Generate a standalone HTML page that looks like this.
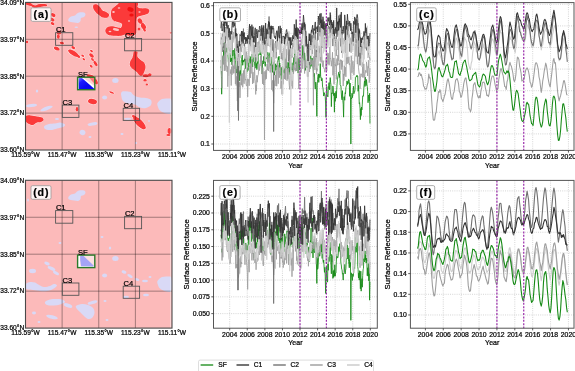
<!DOCTYPE html>
<html><head><meta charset="utf-8"><style>
html,body{margin:0;padding:0;background:#fff;}
body{width:575px;height:371px;position:relative;overflow:hidden;font-family:"Liberation Sans", sans-serif;}
text{stroke:#000;stroke-width:0.22px;}
</style></head><body>
<svg width="575" height="371" viewBox="0 0 575 371" style="position:absolute;left:0;top:0;will-change:transform;filter:blur(0.4px)">
<g font-family='"Liberation Sans", sans-serif' fill="#000">
<defs><clipPath id="clipa"><rect x="25.5" y="2.4" width="146.5" height="147.6"/></clipPath></defs>
<rect x="25.5" y="2.4" width="146.5" height="147.6" fill="#fcbaba"/>
<g clip-path="url(#clipa)">
<path d="M68.5,19C68.92,18.25 69.92,17.08 71,16.5C72.08,15.92 74,16 75,15.5C76,15 76.17,14.03 77,13.5C77.83,12.97 78.83,12.47 80,12.3C81.17,12.13 83.08,12.13 84,12.5C84.92,12.87 85.5,13.75 85.5,14.5C85.5,15.25 84.75,16.42 84,17C83.25,17.58 81.58,17.33 81,18C80.42,18.67 81,20.17 80.5,21C80,21.83 79.08,22.75 78,23C76.92,23.25 75.25,22.67 74,22.5C72.75,22.33 71.42,22.25 70.5,22C69.58,21.75 68.83,21.5 68.5,21C68.17,20.5 68.08,19.75 68.5,19Z" fill="#d9d9f6"/>
<ellipse cx="76.3" cy="27.3" rx="1.8" ry="0.8" transform="rotate(0 76.3 27.3)" fill="#d9d9f6"/>
<ellipse cx="31.5" cy="105.5" rx="5.5" ry="1.6" transform="rotate(-5 31.5 105.5)" fill="#d9d9f6"/>
<ellipse cx="46.5" cy="108.5" rx="6.5" ry="1.8" transform="rotate(-20 46.5 108.5)" fill="#d9d9f6"/>
<path d="M44,126.5C44.5,125.58 47.17,124.5 49,124C50.83,123.5 53.17,123.75 55,123.5C56.83,123.25 58.33,122.33 60,122.5C61.67,122.67 64.5,123.75 65,124.5C65.5,125.25 64.33,126.33 63,127C61.67,127.67 58.83,128 57,128.5C55.17,129 53.83,129.83 52,130C50.17,130.17 47.33,130.08 46,129.5C44.67,128.92 43.5,127.42 44,126.5Z" fill="#d9d9f6"/>
<ellipse cx="82.5" cy="132.5" rx="3" ry="2.6" transform="rotate(20 82.5 132.5)" fill="#d9d9f6"/>
<ellipse cx="92.5" cy="124" rx="5" ry="1.6" transform="rotate(-10 92.5 124)" fill="#d9d9f6"/>
<ellipse cx="115.4" cy="80.6" rx="3.2" ry="2.5" transform="rotate(0 115.4 80.6)" fill="#d9d9f6"/>
<path d="M121.5,93C122.25,92.08 124.42,91.5 126,91.5C127.58,91.5 129.5,92.25 131,93C132.5,93.75 133.5,95.25 135,96C136.5,96.75 138.17,97.17 140,97.5C141.83,97.83 144.17,97.58 146,98C147.83,98.42 150.17,98.83 151,100C151.83,101.17 151.83,103.67 151,105C150.17,106.33 147.83,107.58 146,108C144.17,108.42 141.83,108.08 140,107.5C138.17,106.92 137,105.17 135,104.5C133,103.83 130,104.08 128,103.5C126,102.92 124.08,102.08 123,101C121.92,99.92 121.75,98.33 121.5,97C121.25,95.67 120.75,93.92 121.5,93Z" fill="#d9d9f6"/>
<path d="M157.5,103C158.17,101.67 160.25,99.75 162,99C163.75,98.25 166.42,98.33 168,98.5C169.58,98.67 170.92,97.67 171.5,100C172.08,102.33 172.42,110.25 171.5,112.5C170.58,114.75 167.92,113.83 166,113.5C164.08,113.17 161.33,111.58 160,110.5C158.67,109.42 158.42,108.25 158,107C157.58,105.75 156.83,104.33 157.5,103Z" fill="#d9d9f6"/>
<ellipse cx="104.6" cy="97.5" rx="2.5" ry="2" transform="rotate(0 104.6 97.5)" fill="#d9d9f6"/>
<ellipse cx="127.5" cy="93.5" rx="4.5" ry="2" transform="rotate(0 127.5 93.5)" fill="#d9d9f6"/>
<ellipse cx="125" cy="94" rx="4" ry="2.5" transform="rotate(20 125 94)" fill="#d9d9f6"/>
<ellipse cx="37" cy="91" rx="1.2" ry="1.5" transform="rotate(0 37 91)" fill="#d9d9f6"/>
<ellipse cx="57" cy="119" rx="2" ry="1" transform="rotate(0 57 119)" fill="#d9d9f6"/>
<ellipse cx="90" cy="137" rx="1.5" ry="1" transform="rotate(0 90 137)" fill="#d9d9f6"/>
<ellipse cx="122" cy="134" rx="1.5" ry="1" transform="rotate(0 122 134)" fill="#d9d9f6"/>
<ellipse cx="136" cy="143" rx="1.2" ry="1" transform="rotate(0 136 143)" fill="#d9d9f6"/>
<ellipse cx="149" cy="121" rx="1.2" ry="0.8" transform="rotate(0 149 121)" fill="#d9d9f6"/>
<ellipse cx="127.8" cy="118.8" rx="3.6" ry="1.1" transform="rotate(0 127.8 118.8)" fill="#d9d9f6"/>
<g stroke="#ffe6e6" stroke-width="1.0"><path d="M26,2.4C26.58,2.1 28.33,2.2 29.5,2.6C30.67,3 32,4.3 33,4.8C34,5.3 34.58,5.68 35.5,5.6C36.42,5.52 37.33,4.57 38.5,4.3C39.67,4.03 41.17,3.98 42.5,4C43.83,4.02 45.78,4.07 46.5,4.4C47.22,4.73 47.47,5.67 46.8,6C46.13,6.33 43.97,6.13 42.5,6.4C41.03,6.67 39.33,7.3 38,7.6C36.67,7.9 35.67,8.47 34.5,8.2C33.33,7.93 32.42,6.63 31,6C29.58,5.37 26.83,5 26,4.4C25.17,3.8 25.42,2.7 26,2.4Z" fill="#fb3a3a"/>
<ellipse cx="53.2" cy="15" rx="2.6" ry="1.6" transform="rotate(30 53.2 15)" fill="#fb3a3a"/>
<ellipse cx="52.3" cy="19.6" rx="2.4" ry="1.5" transform="rotate(30 52.3 19.6)" fill="#fb3a3a"/>
<ellipse cx="52.6" cy="23.6" rx="2" ry="1.4" transform="rotate(30 52.6 23.6)" fill="#fb3a3a"/>
<ellipse cx="59" cy="32.5" rx="2.6" ry="2" transform="rotate(0 59 32.5)" fill="#fb3a3a"/>
<ellipse cx="58.3" cy="36.5" rx="1.4" ry="2.3" transform="rotate(0 58.3 36.5)" fill="#fb3a3a"/>
<ellipse cx="61.8" cy="43" rx="2.2" ry="1.2" transform="rotate(10 61.8 43)" fill="#fb3a3a"/>
<ellipse cx="56.8" cy="48.6" rx="3" ry="1.7" transform="rotate(20 56.8 48.6)" fill="#fb3a3a"/>
<ellipse cx="73.5" cy="53.2" rx="6.2" ry="2.2" transform="rotate(32 73.5 53.2)" fill="#fb3a3a"/>
<ellipse cx="73.2" cy="47.6" rx="2" ry="1.3" transform="rotate(30 73.2 47.6)" fill="#fb3a3a"/>
<ellipse cx="78.3" cy="56.3" rx="2" ry="1.3" transform="rotate(35 78.3 56.3)" fill="#fb3a3a"/>
<ellipse cx="82.7" cy="55.7" rx="1.6" ry="1" transform="rotate(35 82.7 55.7)" fill="#fb3a3a"/>
<ellipse cx="83.8" cy="59.2" rx="1.5" ry="0.9" transform="rotate(35 83.8 59.2)" fill="#fb3a3a"/>
<ellipse cx="91.5" cy="55.5" rx="2.8" ry="1.5" transform="rotate(40 91.5 55.5)" fill="#fb3a3a"/>
<ellipse cx="91.5" cy="51" rx="1.6" ry="1" transform="rotate(40 91.5 51)" fill="#fb3a3a"/>
<ellipse cx="95.5" cy="63.5" rx="3" ry="1.4" transform="rotate(55 95.5 63.5)" fill="#fb3a3a"/>
<ellipse cx="92.5" cy="59.5" rx="1.8" ry="1" transform="rotate(45 92.5 59.5)" fill="#fb3a3a"/>
<ellipse cx="91.2" cy="66.3" rx="1.8" ry="1" transform="rotate(45 91.2 66.3)" fill="#fb3a3a"/>
<ellipse cx="90.3" cy="76.2" rx="3.8" ry="1.6" transform="rotate(12 90.3 76.2)" fill="#fb3a3a"/>
<ellipse cx="95.8" cy="81.5" rx="1.6" ry="3.2" transform="rotate(-25 95.8 81.5)" fill="#fb3a3a"/>
<ellipse cx="27" cy="42" rx="1.2" ry="1.2" transform="rotate(0 27 42)" fill="#fb3a3a"/>
<path d="M93.5,5C94.08,4.25 95.92,4.17 97,4.5C98.08,4.83 99.08,6 100,7C100.92,8 101.5,9.67 102.5,10.5C103.5,11.33 104.92,11.33 106,12C107.08,12.67 108.75,13.58 109,14.5C109.25,15.42 108.5,17 107.5,17.5C106.5,18 104.33,17.83 103,17.5C101.67,17.17 100.58,16.25 99.5,15.5C98.42,14.75 97.5,14.08 96.5,13C95.5,11.92 94,10.33 93.5,9C93,7.67 92.92,5.75 93.5,5Z" fill="#fb3a3a"/>
<path d="M121,2.4C124.17,2.13 134.25,1.63 137,2.4C139.75,3.17 136.83,6.02 137.5,7C138.17,7.98 139.42,8.05 141,8.3C142.58,8.55 145.62,8.13 147,8.5C148.38,8.87 149.13,9.67 149.3,10.5C149.47,11.33 148.88,12.75 148,13.5C147.12,14.25 145.33,14.58 144,15C142.67,15.42 141.17,15.58 140,16C138.83,16.42 137.58,16.5 137,17.5C136.42,18.5 136.58,20.25 136.5,22C136.42,23.75 136.58,26.08 136.5,28C136.42,29.92 136.58,32.25 136,33.5C135.42,34.75 134.33,35.17 133,35.5C131.67,35.83 129.33,35.67 128,35.5C126.67,35.33 126.17,34.45 125,34.5C123.83,34.55 122.67,35.58 121,35.8C119.33,36.02 117.17,35.97 115,35.8C112.83,35.63 109.62,35.6 108,34.8C106.38,34 105.38,32.25 105.3,31C105.22,29.75 106.38,28.08 107.5,27.3C108.62,26.52 110.42,26.3 112,26.3C113.58,26.3 115.5,27.05 117,27.3C118.5,27.55 120.17,28.35 121,27.8C121.83,27.25 122.5,24.97 122,24C121.5,23.03 119.33,22.5 118,22C116.67,21.5 115.08,21.75 114,21C112.92,20.25 112,18.83 111.5,17.5C111,16.17 110.92,14.42 111,13C111.08,11.58 111.33,10.08 112,9C112.67,7.92 114,7.33 115,6.5C116,5.67 117,4.68 118,4C119,3.32 117.83,2.67 121,2.4Z" fill="#fb3a3a"/>
<ellipse cx="140" cy="21" rx="2.2" ry="2.8" transform="rotate(-30 140 21)" fill="#fb3a3a"/>
<ellipse cx="143.5" cy="26.5" rx="2.2" ry="3" transform="rotate(-35 143.5 26.5)" fill="#fb3a3a"/>
<ellipse cx="139" cy="29" rx="1.5" ry="1.5" transform="rotate(0 139 29)" fill="#fb3a3a"/>
<ellipse cx="143" cy="25" rx="1.5" ry="2.5" transform="rotate(-35 143 25)" fill="#fb3a3a"/>
<ellipse cx="144.5" cy="30" rx="1.2" ry="1.8" transform="rotate(-30 144.5 30)" fill="#fb3a3a"/>
<ellipse cx="170.7" cy="32.8" rx="1" ry="1" transform="rotate(0 170.7 32.8)" fill="#fb3a3a"/>
<path d="M134,51.5C134.72,51 136.95,51.17 137.5,52C138.05,52.83 136.88,55.25 137.3,56.5C137.72,57.75 138.88,58.5 140,59.5C141.12,60.5 143.08,61.25 144,62.5C144.92,63.75 145.45,65.5 145.5,67C145.55,68.5 144.83,70.12 144.3,71.5C143.77,72.88 143.05,74.63 142.3,75.3C141.55,75.97 140.72,76.05 139.8,75.5C138.88,74.95 137.97,73.08 136.8,72C135.63,70.92 133.93,70.08 132.8,69C131.67,67.92 130.42,66.75 130,65.5C129.58,64.25 129.92,62.75 130.3,61.5C130.68,60.25 131.82,59.08 132.3,58C132.78,56.92 132.92,56.08 133.2,55C133.48,53.92 133.28,52 134,51.5Z" fill="#fb3a3a"/>
<ellipse cx="149.8" cy="74.8" rx="1.8" ry="1.6" transform="rotate(0 149.8 74.8)" fill="#fb3a3a"/>
<ellipse cx="145" cy="80.2" rx="1.5" ry="1.3" transform="rotate(0 145 80.2)" fill="#fb3a3a"/>
<ellipse cx="146.8" cy="84.4" rx="1.2" ry="1" transform="rotate(0 146.8 84.4)" fill="#fb3a3a"/>
<ellipse cx="145.5" cy="75.5" rx="3" ry="1.2" transform="rotate(0 145.5 75.5)" fill="#fb3a3a"/>
<ellipse cx="92.5" cy="101.5" rx="4.5" ry="2.5" transform="rotate(10 92.5 101.5)" fill="#fb3a3a"/>
<path d="M26,116C26.83,115 29.17,115.42 31,115.5C32.83,115.58 35.17,116.17 37,116.5C38.83,116.83 40.92,116.92 42,117.5C43.08,118.08 43.67,119.25 43.5,120C43.33,120.75 42.08,121.58 41,122C39.92,122.42 38.33,122 37,122.5C35.67,123 34.33,124.75 33,125C31.67,125.25 30.17,124.58 29,124C27.83,123.42 26.5,122.83 26,121.5C25.5,120.17 25.17,117 26,116Z" fill="#fb3a3a"/>
<ellipse cx="77" cy="109.3" rx="1.3" ry="2.3" transform="rotate(0 77 109.3)" fill="#fb3a3a"/>
<ellipse cx="111.6" cy="92.5" rx="2.6" ry="0.9" transform="rotate(20 111.6 92.5)" fill="#fb3a3a"/>
<ellipse cx="139.5" cy="123" rx="8.2" ry="3.3" transform="rotate(45 139.5 123)" fill="#fb3a3a"/>
<ellipse cx="134.5" cy="117" rx="2.8" ry="1.3" transform="rotate(30 134.5 117)" fill="#fb3a3a"/>
<ellipse cx="169.5" cy="131" rx="2" ry="3" transform="rotate(0 169.5 131)" fill="#fb3a3a"/>
<ellipse cx="168.5" cy="135" rx="2.2" ry="1" transform="rotate(0 168.5 135)" fill="#fb3a3a"/>
<ellipse cx="146" cy="76" rx="3" ry="1.2" transform="rotate(0 146 76)" fill="#fb3a3a"/></g>
<path d="M26,2.4C26.58,2.1 28.33,2.2 29.5,2.6C30.67,3 32,4.3 33,4.8C34,5.3 34.58,5.68 35.5,5.6C36.42,5.52 37.33,4.57 38.5,4.3C39.67,4.03 41.17,3.98 42.5,4C43.83,4.02 45.78,4.07 46.5,4.4C47.22,4.73 47.47,5.67 46.8,6C46.13,6.33 43.97,6.13 42.5,6.4C41.03,6.67 39.33,7.3 38,7.6C36.67,7.9 35.67,8.47 34.5,8.2C33.33,7.93 32.42,6.63 31,6C29.58,5.37 26.83,5 26,4.4C25.17,3.8 25.42,2.7 26,2.4Z" fill="#fb3a3a"/>
<ellipse cx="53.2" cy="15" rx="2.6" ry="1.6" transform="rotate(30 53.2 15)" fill="#fb3a3a"/>
<ellipse cx="52.3" cy="19.6" rx="2.4" ry="1.5" transform="rotate(30 52.3 19.6)" fill="#fb3a3a"/>
<ellipse cx="52.6" cy="23.6" rx="2" ry="1.4" transform="rotate(30 52.6 23.6)" fill="#fb3a3a"/>
<ellipse cx="59" cy="32.5" rx="2.6" ry="2" transform="rotate(0 59 32.5)" fill="#fb3a3a"/>
<ellipse cx="58.3" cy="36.5" rx="1.4" ry="2.3" transform="rotate(0 58.3 36.5)" fill="#fb3a3a"/>
<ellipse cx="61.8" cy="43" rx="2.2" ry="1.2" transform="rotate(10 61.8 43)" fill="#fb3a3a"/>
<ellipse cx="56.8" cy="48.6" rx="3" ry="1.7" transform="rotate(20 56.8 48.6)" fill="#fb3a3a"/>
<ellipse cx="73.5" cy="53.2" rx="6.2" ry="2.2" transform="rotate(32 73.5 53.2)" fill="#fb3a3a"/>
<ellipse cx="73.2" cy="47.6" rx="2" ry="1.3" transform="rotate(30 73.2 47.6)" fill="#fb3a3a"/>
<ellipse cx="78.3" cy="56.3" rx="2" ry="1.3" transform="rotate(35 78.3 56.3)" fill="#fb3a3a"/>
<ellipse cx="82.7" cy="55.7" rx="1.6" ry="1" transform="rotate(35 82.7 55.7)" fill="#fb3a3a"/>
<ellipse cx="83.8" cy="59.2" rx="1.5" ry="0.9" transform="rotate(35 83.8 59.2)" fill="#fb3a3a"/>
<ellipse cx="91.5" cy="55.5" rx="2.8" ry="1.5" transform="rotate(40 91.5 55.5)" fill="#fb3a3a"/>
<ellipse cx="91.5" cy="51" rx="1.6" ry="1" transform="rotate(40 91.5 51)" fill="#fb3a3a"/>
<ellipse cx="95.5" cy="63.5" rx="3" ry="1.4" transform="rotate(55 95.5 63.5)" fill="#fb3a3a"/>
<ellipse cx="92.5" cy="59.5" rx="1.8" ry="1" transform="rotate(45 92.5 59.5)" fill="#fb3a3a"/>
<ellipse cx="91.2" cy="66.3" rx="1.8" ry="1" transform="rotate(45 91.2 66.3)" fill="#fb3a3a"/>
<ellipse cx="90.3" cy="76.2" rx="3.8" ry="1.6" transform="rotate(12 90.3 76.2)" fill="#fb3a3a"/>
<ellipse cx="95.8" cy="81.5" rx="1.6" ry="3.2" transform="rotate(-25 95.8 81.5)" fill="#fb3a3a"/>
<ellipse cx="27" cy="42" rx="1.2" ry="1.2" transform="rotate(0 27 42)" fill="#fb3a3a"/>
<path d="M93.5,5C94.08,4.25 95.92,4.17 97,4.5C98.08,4.83 99.08,6 100,7C100.92,8 101.5,9.67 102.5,10.5C103.5,11.33 104.92,11.33 106,12C107.08,12.67 108.75,13.58 109,14.5C109.25,15.42 108.5,17 107.5,17.5C106.5,18 104.33,17.83 103,17.5C101.67,17.17 100.58,16.25 99.5,15.5C98.42,14.75 97.5,14.08 96.5,13C95.5,11.92 94,10.33 93.5,9C93,7.67 92.92,5.75 93.5,5Z" fill="#fb3a3a"/>
<path d="M121,2.4C124.17,2.13 134.25,1.63 137,2.4C139.75,3.17 136.83,6.02 137.5,7C138.17,7.98 139.42,8.05 141,8.3C142.58,8.55 145.62,8.13 147,8.5C148.38,8.87 149.13,9.67 149.3,10.5C149.47,11.33 148.88,12.75 148,13.5C147.12,14.25 145.33,14.58 144,15C142.67,15.42 141.17,15.58 140,16C138.83,16.42 137.58,16.5 137,17.5C136.42,18.5 136.58,20.25 136.5,22C136.42,23.75 136.58,26.08 136.5,28C136.42,29.92 136.58,32.25 136,33.5C135.42,34.75 134.33,35.17 133,35.5C131.67,35.83 129.33,35.67 128,35.5C126.67,35.33 126.17,34.45 125,34.5C123.83,34.55 122.67,35.58 121,35.8C119.33,36.02 117.17,35.97 115,35.8C112.83,35.63 109.62,35.6 108,34.8C106.38,34 105.38,32.25 105.3,31C105.22,29.75 106.38,28.08 107.5,27.3C108.62,26.52 110.42,26.3 112,26.3C113.58,26.3 115.5,27.05 117,27.3C118.5,27.55 120.17,28.35 121,27.8C121.83,27.25 122.5,24.97 122,24C121.5,23.03 119.33,22.5 118,22C116.67,21.5 115.08,21.75 114,21C112.92,20.25 112,18.83 111.5,17.5C111,16.17 110.92,14.42 111,13C111.08,11.58 111.33,10.08 112,9C112.67,7.92 114,7.33 115,6.5C116,5.67 117,4.68 118,4C119,3.32 117.83,2.67 121,2.4Z" fill="#fb3a3a"/>
<ellipse cx="140" cy="21" rx="2.2" ry="2.8" transform="rotate(-30 140 21)" fill="#fb3a3a"/>
<ellipse cx="143.5" cy="26.5" rx="2.2" ry="3" transform="rotate(-35 143.5 26.5)" fill="#fb3a3a"/>
<ellipse cx="139" cy="29" rx="1.5" ry="1.5" transform="rotate(0 139 29)" fill="#fb3a3a"/>
<ellipse cx="143" cy="25" rx="1.5" ry="2.5" transform="rotate(-35 143 25)" fill="#fb3a3a"/>
<ellipse cx="144.5" cy="30" rx="1.2" ry="1.8" transform="rotate(-30 144.5 30)" fill="#fb3a3a"/>
<ellipse cx="170.7" cy="32.8" rx="1" ry="1" transform="rotate(0 170.7 32.8)" fill="#fb3a3a"/>
<path d="M134,51.5C134.72,51 136.95,51.17 137.5,52C138.05,52.83 136.88,55.25 137.3,56.5C137.72,57.75 138.88,58.5 140,59.5C141.12,60.5 143.08,61.25 144,62.5C144.92,63.75 145.45,65.5 145.5,67C145.55,68.5 144.83,70.12 144.3,71.5C143.77,72.88 143.05,74.63 142.3,75.3C141.55,75.97 140.72,76.05 139.8,75.5C138.88,74.95 137.97,73.08 136.8,72C135.63,70.92 133.93,70.08 132.8,69C131.67,67.92 130.42,66.75 130,65.5C129.58,64.25 129.92,62.75 130.3,61.5C130.68,60.25 131.82,59.08 132.3,58C132.78,56.92 132.92,56.08 133.2,55C133.48,53.92 133.28,52 134,51.5Z" fill="#fb3a3a"/>
<ellipse cx="149.8" cy="74.8" rx="1.8" ry="1.6" transform="rotate(0 149.8 74.8)" fill="#fb3a3a"/>
<ellipse cx="145" cy="80.2" rx="1.5" ry="1.3" transform="rotate(0 145 80.2)" fill="#fb3a3a"/>
<ellipse cx="146.8" cy="84.4" rx="1.2" ry="1" transform="rotate(0 146.8 84.4)" fill="#fb3a3a"/>
<ellipse cx="145.5" cy="75.5" rx="3" ry="1.2" transform="rotate(0 145.5 75.5)" fill="#fb3a3a"/>
<ellipse cx="92.5" cy="101.5" rx="4.5" ry="2.5" transform="rotate(10 92.5 101.5)" fill="#fb3a3a"/>
<path d="M26,116C26.83,115 29.17,115.42 31,115.5C32.83,115.58 35.17,116.17 37,116.5C38.83,116.83 40.92,116.92 42,117.5C43.08,118.08 43.67,119.25 43.5,120C43.33,120.75 42.08,121.58 41,122C39.92,122.42 38.33,122 37,122.5C35.67,123 34.33,124.75 33,125C31.67,125.25 30.17,124.58 29,124C27.83,123.42 26.5,122.83 26,121.5C25.5,120.17 25.17,117 26,116Z" fill="#fb3a3a"/>
<ellipse cx="77" cy="109.3" rx="1.3" ry="2.3" transform="rotate(0 77 109.3)" fill="#fb3a3a"/>
<ellipse cx="111.6" cy="92.5" rx="2.6" ry="0.9" transform="rotate(20 111.6 92.5)" fill="#fb3a3a"/>
<ellipse cx="139.5" cy="123" rx="8.2" ry="3.3" transform="rotate(45 139.5 123)" fill="#fb3a3a"/>
<ellipse cx="134.5" cy="117" rx="2.8" ry="1.3" transform="rotate(30 134.5 117)" fill="#fb3a3a"/>
<ellipse cx="169.5" cy="131" rx="2" ry="3" transform="rotate(0 169.5 131)" fill="#fb3a3a"/>
<ellipse cx="168.5" cy="135" rx="2.2" ry="1" transform="rotate(0 168.5 135)" fill="#fb3a3a"/>
<ellipse cx="146" cy="76" rx="3" ry="1.2" transform="rotate(0 146 76)" fill="#fb3a3a"/>
<ellipse cx="116" cy="29.5" rx="3.2" ry="1.3" transform="rotate(10 116 29.5)" fill="#fcc4c4"/>
<ellipse cx="113.5" cy="12" rx="1.3" ry="0.9" transform="rotate(0 113.5 12)" fill="#fcc4c4"/>
<ellipse cx="129" cy="21" rx="1.2" ry="0.8" transform="rotate(0 129 21)" fill="#fcc4c4"/>
<ellipse cx="110" cy="31.5" rx="1.4" ry="0.8" transform="rotate(0 110 31.5)" fill="#fcc4c4"/>
<ellipse cx="119" cy="8" rx="1.3" ry="0.8" transform="rotate(0 119 8)" fill="#fcc4c4"/>
<ellipse cx="139.5" cy="12" rx="1.2" ry="0.8" transform="rotate(0 139.5 12)" fill="#fcc4c4"/>
<ellipse cx="130.5" cy="9.5" rx="3.2" ry="2.2" transform="rotate(20 130.5 9.5)" fill="#f01010"/>
<ellipse cx="131.5" cy="15" rx="2.2" ry="1.5" transform="rotate(0 131.5 15)" fill="#f01010"/>
<linearGradient id="gsfb" x1="0" y1="0" x2="0.6" y2="0.6"><stop offset="0" stop-color="#8c8cff"/><stop offset="0.45" stop-color="#1a1aff"/><stop offset="1" stop-color="#0808f0"/></linearGradient>
<rect x="77.6" y="77.2" width="17.2" height="12.5" fill="#fbd0d0"/>
<path d="M88.8,77.2 L94.8,77.2 L94.8,84.2 Z" fill="#f77"/>
<path d="M77.6,77.2 L82.6,77.2 L94.8,86.2 L94.8,89.7 L77.6,89.7 Z" fill="#fff"/>
<path d="M78.6,77.2 L81.1,77.2 L94.3,88.7 L94.3,89.7 L78.8,89.7 Z" fill="url(#gsfb)"/>
</g>
<line x1="62.12" y1="2.4" x2="62.12" y2="150.0" stroke="#000" stroke-opacity="0.45" stroke-width="0.8"/>
<line x1="25.5" y1="39.3" x2="172.0" y2="39.3" stroke="#000" stroke-opacity="0.45" stroke-width="0.8"/>
<line x1="98.75" y1="2.4" x2="98.75" y2="150.0" stroke="#000" stroke-opacity="0.45" stroke-width="0.8"/>
<line x1="25.5" y1="76.2" x2="172.0" y2="76.2" stroke="#000" stroke-opacity="0.45" stroke-width="0.8"/>
<line x1="135.38" y1="2.4" x2="135.38" y2="150.0" stroke="#000" stroke-opacity="0.45" stroke-width="0.8"/>
<line x1="25.5" y1="113.1" x2="172.0" y2="113.1" stroke="#000" stroke-opacity="0.45" stroke-width="0.8"/>
<rect x="55.6" y="32.7" width="17.2" height="12.6" fill="none" stroke="#555" stroke-width="0.9"/>
<text x="55.9" y="32.3" font-size="7.6" fill="#000">C1</text>
<rect x="124.6" y="38.5" width="17" height="12.3" fill="none" stroke="#555" stroke-width="0.9"/>
<text x="124.9" y="38.1" font-size="7.6" fill="#000">C2</text>
<rect x="62.3" y="105.1" width="16.6" height="12.3" fill="none" stroke="#555" stroke-width="0.9"/>
<text x="62.6" y="104.7" font-size="7.6" fill="#000">C3</text>
<rect x="123.2" y="108.3" width="16.4" height="12.1" fill="none" stroke="#555" stroke-width="0.9"/>
<text x="123.5" y="107.9" font-size="7.6" fill="#000">C4</text>
<rect x="77.6" y="77.2" width="17.2" height="12.5" fill="none" stroke="#2a7a2a" stroke-width="1.4"/>
<text x="77.9" y="76.8" font-size="7.6" fill="#000">SF</text>
<rect x="170.2" y="2.4" width="1.0" height="147.6" fill="#fff" fill-opacity="0.45"/>
<rect x="25.5" y="2.4" width="146.5" height="147.6" fill="none" stroke="#4a4a4a" stroke-width="1.1"/>
<rect x="31" y="7.8" width="20" height="13.6" rx="1.5" fill="#fff" fill-opacity="0.85" stroke="#9a9a9a" stroke-width="0.8"/>
<text x="41.3" y="17.8" font-size="10.6" font-weight="bold" text-anchor="middle" letter-spacing="0.9">(a)</text>
<text x="24.2" y="4.7" font-size="6.6" text-anchor="end">34.09°N</text>
<text x="24.2" y="41.6" font-size="6.6" text-anchor="end">33.97°N</text>
<text x="24.2" y="78.5" font-size="6.6" text-anchor="end">33.85°N</text>
<text x="24.2" y="115.4" font-size="6.6" text-anchor="end">33.72°N</text>
<text x="24.2" y="152.3" font-size="6.6" text-anchor="end">33.60°N</text>
<text x="25.5" y="157.2" font-size="6.6" text-anchor="middle">115.59°W</text>
<text x="62.12" y="157.2" font-size="6.6" text-anchor="middle">115.47°W</text>
<text x="98.75" y="157.2" font-size="6.6" text-anchor="middle">115.35°W</text>
<text x="135.38" y="157.2" font-size="6.6" text-anchor="middle">115.23°W</text>
<text x="172" y="157.2" font-size="6.6" text-anchor="middle">115.11°W</text>
<defs><clipPath id="clipd"><rect x="25.5" y="180.3" width="146.5" height="147.8"/></clipPath></defs>
<rect x="25.5" y="180.3" width="146.5" height="147.8" fill="#fcbaba"/>
<g clip-path="url(#clipd)">
<path d="M68.5,197C68.92,196.25 69.92,195.08 71,194.5C72.08,193.92 74,194 75,193.5C76,193 76.17,192.03 77,191.5C77.83,190.97 78.83,190.47 80,190.3C81.17,190.13 83.08,190.13 84,190.5C84.92,190.87 85.5,191.75 85.5,192.5C85.5,193.25 84.75,194.42 84,195C83.25,195.58 81.58,195.33 81,196C80.42,196.67 81,198.17 80.5,199C80,199.83 79.08,200.75 78,201C76.92,201.25 75.25,200.67 74,200.5C72.75,200.33 71.42,200.25 70.5,200C69.58,199.75 68.83,199.5 68.5,199C68.17,198.5 68.08,197.75 68.5,197Z" fill="#d9d9f6"/>
<ellipse cx="32.5" cy="271" rx="3.5" ry="2.2" transform="rotate(0 32.5 271)" fill="#d9d9f6"/>
<ellipse cx="47" cy="263.5" rx="2.8" ry="1.6" transform="rotate(20 47 263.5)" fill="#d9d9f6"/>
<ellipse cx="51.5" cy="268.5" rx="4.2" ry="1.6" transform="rotate(25 51.5 268.5)" fill="#d9d9f6"/>
<ellipse cx="56" cy="273" rx="3.3" ry="1.5" transform="rotate(30 56 273)" fill="#d9d9f6"/>
<path d="M26,284C26.67,282.92 28.5,282.25 30,282C31.5,281.75 33.5,282 35,282.5C36.5,283 37.5,284.25 39,285C40.5,285.75 42.17,286.83 44,287C45.83,287.17 48.33,286.5 50,286C51.67,285.5 52.83,284.08 54,284C55.17,283.92 57.17,284.67 57,285.5C56.83,286.33 54.67,288.08 53,289C51.33,289.92 49.17,290.67 47,291C44.83,291.33 42.33,291.17 40,291C37.67,290.83 35,290.25 33,290C31,289.75 29.17,289.75 28,289.5C26.83,289.25 26.33,289.42 26,288.5C25.67,287.58 25.33,285.08 26,284Z" fill="#d9d9f6"/>
<path d="M45,302C45.5,301.08 48.17,300 50,299.5C51.83,299 54,299 56,299C58,299 60.5,299 62,299.5C63.5,300 65.33,301.17 65,302C64.67,302.83 61.83,303.92 60,304.5C58.17,305.08 56.17,305.42 54,305.5C51.83,305.58 48.5,305.58 47,305C45.5,304.42 44.5,302.92 45,302Z" fill="#d9d9f6"/>
<ellipse cx="68" cy="305.5" rx="4.5" ry="1.8" transform="rotate(20 68 305.5)" fill="#d9d9f6"/>
<path d="M76,306C76.83,305.17 80,304.17 82,304C84,303.83 86.17,304.33 88,305C89.83,305.67 91.92,306.67 93,308C94.08,309.33 94.67,311.33 94.5,313C94.33,314.67 93.08,317 92,318C90.92,319 89.33,319.33 88,319C86.67,318.67 85.33,317.17 84,316C82.67,314.83 81.17,313.17 80,312C78.83,310.83 77.67,310 77,309C76.33,308 75.17,306.83 76,306Z" fill="#d9d9f6"/>
<ellipse cx="92.5" cy="302.5" rx="5" ry="1.6" transform="rotate(-15 92.5 302.5)" fill="#d9d9f6"/>
<ellipse cx="34" cy="313" rx="2" ry="1.4" transform="rotate(0 34 313)" fill="#d9d9f6"/>
<ellipse cx="52" cy="317" rx="6" ry="1.8" transform="rotate(15 52 317)" fill="#d9d9f6"/>
<ellipse cx="39" cy="322" rx="1.5" ry="1" transform="rotate(0 39 322)" fill="#d9d9f6"/>
<ellipse cx="115.4" cy="258.6" rx="3.2" ry="2.5" transform="rotate(0 115.4 258.6)" fill="#d9d9f6"/>
<ellipse cx="124" cy="272" rx="2.5" ry="1.5" transform="rotate(20 124 272)" fill="#d9d9f6"/>
<ellipse cx="130" cy="276" rx="3" ry="1.3" transform="rotate(30 130 276)" fill="#d9d9f6"/>
<ellipse cx="137" cy="279.5" rx="2.5" ry="1.2" transform="rotate(20 137 279.5)" fill="#d9d9f6"/>
<ellipse cx="145" cy="281" rx="3" ry="1.3" transform="rotate(0 145 281)" fill="#d9d9f6"/>
<ellipse cx="150" cy="277" rx="1.5" ry="1" transform="rotate(0 150 277)" fill="#d9d9f6"/>
<path d="M157.5,281C158.17,279.67 160.25,277.75 162,277C163.75,276.25 166.42,276.33 168,276.5C169.58,276.67 170.92,275.67 171.5,278C172.08,280.33 172.42,288.25 171.5,290.5C170.58,292.75 167.92,291.83 166,291.5C164.08,291.17 161.33,289.58 160,288.5C158.67,287.42 158.42,286.25 158,285C157.58,283.75 156.83,282.33 157.5,281Z" fill="#d9d9f6"/>
<ellipse cx="104.6" cy="275.5" rx="2.5" ry="2" transform="rotate(0 104.6 275.5)" fill="#d9d9f6"/>
<ellipse cx="126" cy="297" rx="3" ry="1.3" transform="rotate(0 126 297)" fill="#d9d9f6"/>
<ellipse cx="146" cy="295" rx="3" ry="1.2" transform="rotate(0 146 295)" fill="#d9d9f6"/>
<ellipse cx="105" cy="301" rx="1.5" ry="1" transform="rotate(0 105 301)" fill="#d9d9f6"/>
<ellipse cx="107" cy="320" rx="1.5" ry="1" transform="rotate(0 107 320)" fill="#d9d9f6"/>
<ellipse cx="102" cy="237" rx="1.5" ry="1" transform="rotate(0 102 237)" fill="#d9d9f6"/>
<ellipse cx="110" cy="248" rx="1.2" ry="1.5" transform="rotate(0 110 248)" fill="#d9d9f6"/>
<ellipse cx="60" cy="243" rx="1.5" ry="1" transform="rotate(0 60 243)" fill="#d9d9f6"/>
<ellipse cx="28" cy="200" rx="0.8" ry="1.5" transform="rotate(0 28 200)" fill="#d9d9f6"/>
<rect x="77.6" y="255.1" width="17.2" height="12.5" fill="#fbe0e0"/>
<rect x="77.6" y="255.1" width="2.6" height="12.5" fill="#fff"/>
<rect x="77.6" y="266" width="17.2" height="1.6" fill="#fff"/>
<path d="M80.19999999999999,255.4 L83.1,255.4 L93.6,265.4 L93.3,266.4 L81.1,266.2 L80.19999999999999,260.1 Z" fill="#a4a4f6"/>
</g>
<line x1="62.12" y1="180.3" x2="62.12" y2="328.1" stroke="#000" stroke-opacity="0.45" stroke-width="0.8"/>
<line x1="25.5" y1="217.25" x2="172.0" y2="217.25" stroke="#000" stroke-opacity="0.45" stroke-width="0.8"/>
<line x1="98.75" y1="180.3" x2="98.75" y2="328.1" stroke="#000" stroke-opacity="0.45" stroke-width="0.8"/>
<line x1="25.5" y1="254.2" x2="172.0" y2="254.2" stroke="#000" stroke-opacity="0.45" stroke-width="0.8"/>
<line x1="135.38" y1="180.3" x2="135.38" y2="328.1" stroke="#000" stroke-opacity="0.45" stroke-width="0.8"/>
<line x1="25.5" y1="291.15" x2="172.0" y2="291.15" stroke="#000" stroke-opacity="0.45" stroke-width="0.8"/>
<rect x="55.6" y="210.6" width="17.2" height="12.6" fill="none" stroke="#555" stroke-width="0.9"/>
<text x="55.9" y="210.2" font-size="7.6" fill="#000">C1</text>
<rect x="124.6" y="216.4" width="17" height="12.3" fill="none" stroke="#555" stroke-width="0.9"/>
<text x="124.9" y="216" font-size="7.6" fill="#000">C2</text>
<rect x="62.3" y="283" width="16.6" height="12.3" fill="none" stroke="#555" stroke-width="0.9"/>
<text x="62.6" y="282.6" font-size="7.6" fill="#000">C3</text>
<rect x="123.2" y="286.2" width="16.4" height="12.1" fill="none" stroke="#555" stroke-width="0.9"/>
<text x="123.5" y="285.8" font-size="7.6" fill="#000">C4</text>
<rect x="77.6" y="255.1" width="17.2" height="12.5" fill="none" stroke="#2a7a2a" stroke-width="1.4"/>
<text x="77.9" y="254.7" font-size="7.6" fill="#000">SF</text>
<rect x="170.2" y="180.3" width="1.0" height="147.8" fill="#fff" fill-opacity="0.45"/>
<rect x="25.5" y="180.3" width="146.5" height="147.8" fill="none" stroke="#4a4a4a" stroke-width="1.1"/>
<rect x="31" y="185.7" width="20" height="13.6" rx="1.5" fill="#fff" fill-opacity="0.85" stroke="#9a9a9a" stroke-width="0.8"/>
<text x="41.3" y="195.7" font-size="10.6" font-weight="bold" text-anchor="middle" letter-spacing="0.9">(d)</text>
<text x="24.2" y="182.6" font-size="6.6" text-anchor="end">34.09°N</text>
<text x="24.2" y="219.55" font-size="6.6" text-anchor="end">33.97°N</text>
<text x="24.2" y="256.5" font-size="6.6" text-anchor="end">33.85°N</text>
<text x="24.2" y="293.45" font-size="6.6" text-anchor="end">33.72°N</text>
<text x="24.2" y="330.4" font-size="6.6" text-anchor="end">33.60°N</text>
<text x="25.5" y="335.3" font-size="6.6" text-anchor="middle">115.59°W</text>
<text x="62.12" y="335.3" font-size="6.6" text-anchor="middle">115.47°W</text>
<text x="98.75" y="335.3" font-size="6.6" text-anchor="middle">115.35°W</text>
<text x="135.38" y="335.3" font-size="6.6" text-anchor="middle">115.23°W</text>
<text x="172" y="335.3" font-size="6.6" text-anchor="middle">115.11°W</text>
<defs><clipPath id="ccb"><rect x="213.5" y="2.6" width="163.8" height="147.8"/></clipPath></defs>
<g stroke="#c4c4c4" stroke-width="0.7" stroke-dasharray="1,1.2"><line x1="229.7" y1="2.6" x2="229.7" y2="150.4"/><line x1="247.28" y1="2.6" x2="247.28" y2="150.4"/><line x1="264.86" y1="2.6" x2="264.86" y2="150.4"/><line x1="282.44" y1="2.6" x2="282.44" y2="150.4"/><line x1="300.02" y1="2.6" x2="300.02" y2="150.4"/><line x1="317.6" y1="2.6" x2="317.6" y2="150.4"/><line x1="335.18" y1="2.6" x2="335.18" y2="150.4"/><line x1="352.76" y1="2.6" x2="352.76" y2="150.4"/><line x1="370.34" y1="2.6" x2="370.34" y2="150.4"/><line x1="213.5" y1="144" x2="377.3" y2="144"/><line x1="213.5" y1="116.34" x2="377.3" y2="116.34"/><line x1="213.5" y1="88.68" x2="377.3" y2="88.68"/><line x1="213.5" y1="61.02" x2="377.3" y2="61.02"/><line x1="213.5" y1="33.36" x2="377.3" y2="33.36"/><line x1="213.5" y1="5.7" x2="377.3" y2="5.7"/></g>
<g clip-path="url(#ccb)" fill="none" stroke-width="0.85" stroke-linejoin="round">
<polyline points="220.91,68.12 221.29,65.93 221.67,94.21 222.06,64.11 222.44,59.07 222.82,56.26 223.2,63.85 223.59,50.38 223.97,55.38 224.35,42.3 224.73,48.25 225.11,54.05 225.5,51.13 225.88,51.6 226.26,51.74 226.64,47.79 227.02,52.43 227.41,48.29 227.79,53.68 228.17,58.06 228.55,64.73 228.94,65.48 229.32,58.11 229.7,56.25 230.08,53.02 230.46,61.92 230.85,58.17 231.23,61.01 231.61,57.94 231.99,64.78 232.38,50.2 232.76,55.79 233.14,52.49 233.52,50.28 233.9,51.3 234.29,59.61 234.67,48.46 235.05,53.57 235.43,56.72 235.81,64.07 236.2,70.58 236.58,73.06 236.96,69.07 237.34,69.59 237.73,75.33 238.11,65.73 238.49,73.73 238.87,71.46 239.25,72.22 239.64,80.72 240.02,70.34 240.4,70.63 240.78,75.52 241.17,63.7 241.55,59.24 241.93,57.18 242.31,55.12 242.69,65.25 243.08,60.21 243.46,62.07 243.84,60.29 244.22,61.17 244.6,57.87 244.99,60.71 245.37,68.7 245.75,61.75 246.13,58.86 246.52,64.65 246.9,72.33 247.28,67.92 247.66,65.05 248.04,70.47 248.43,62.84 248.81,66.79 249.19,56.63 249.57,56.22 249.96,58.89 250.34,63.64 250.72,56.61 251.1,60.79 251.48,61.4 251.87,54.09 252.25,63.23 252.63,67.02 253.01,58.58 253.39,55.38 253.78,57.25 254.16,61.92 254.54,56.92 254.92,68.31 255.31,57.39 255.69,57.67 256.07,67.9 256.45,63.5 256.83,69.6 257.22,66.76 257.6,57.91 257.98,63.82 258.36,56.18 258.75,53.87 259.13,54.54 259.51,50.59 259.89,46.53 260.27,55.07 260.66,52.58 261.04,51.86 261.42,62.14 261.8,64.73 262.18,74.06 262.57,62.64 262.95,60.75 263.33,63.88 263.71,56.45 264.1,58.57 264.48,61 264.86,63.78 265.24,66.31 265.62,60.59 266.01,57.48 266.39,58.66 266.77,58.5 267.15,57.85 267.54,52.3 267.92,62.54 268.3,56.29 268.68,54.82 269.06,52.63 269.45,53.47 269.83,58.73 270.21,61.64 270.59,65.7 270.97,56.88 271.36,60.97 271.74,64.08 272.12,69.48 272.5,72.32 272.89,62.93 273.27,68.63 273.65,66.63 274.03,60.62 274.41,75.1 274.8,71.29 275.18,65.63 275.56,63.8 275.94,70.44 276.33,65.41 276.71,67 277.09,66.23 277.47,61.41 277.85,61.84 278.24,57.27 278.62,59.78 279,56.21 279.38,67.27 279.76,62.97 280.15,72.5 280.53,75.1 280.91,75.39 281.29,67.39 281.68,70.7 282.06,79.53 282.44,66.7 282.82,68.05 283.2,72.68 283.59,72.19 283.97,70.18 284.35,74.41 284.73,57.39 285.12,68.7 285.5,66.42 285.88,66.13 286.26,67.04 286.64,67.79 287.03,62.28 287.41,69.51 287.79,69.14 288.17,68.78 288.55,62.45 288.94,71.35 289.32,72.29 289.7,67.31 290.08,74.56 290.47,71.59 290.85,66.58 291.23,68.85 291.61,70.24 291.99,62.68 292.38,69.85 292.76,68.85 293.14,71.91 293.52,61.95 293.91,57.49 294.29,61.85 294.67,49.66 295.05,53.25 295.43,53.91 295.82,63.94 296.2,58.17 296.58,58.95 296.96,70.87 297.34,63.2 297.73,65.36 298.11,73.03 298.49,63.91 298.87,57.45 299.26,63.3 299.64,69.87 300.02,66.03 300.4,58.16 300.78,64.71 301.17,57.12 301.55,56.25 301.93,53.54 302.31,45.36 302.7,58.41 303.08,46.07 303.46,50.28 303.84,52.46 304.22,60.4 304.61,52.89 304.99,57.55 305.37,70.4 305.75,65.08 306.13,65.89 306.52,66.46 306.9,65.82 307.28,67.62 307.66,57.43 308.05,59.65 308.43,64.62 308.81,57.84 309.19,54.19 309.57,61.12 309.96,68.77 310.34,60.85 310.72,55.84 311.1,66.38 311.49,61.83 311.87,58.04 312.25,58.17 312.63,61.61 313.01,66.31 313.4,71.63 313.78,76.84 314.16,73.21 314.54,76.76 314.92,85.86 315.31,89.08 315.69,82.05 316.07,84.01 316.45,91.82 316.84,116.34 317.22,84.92 317.6,79.32 317.98,75.87 318.36,73.93 318.75,82.39 319.13,74.15 319.51,75.87 319.89,77.79 320.28,63.59 320.66,76.4 321.04,76.74 321.42,80.93 321.8,78.49 322.19,78.41 322.57,86.95 322.95,87.9 323.33,91.72 323.71,96.06 324.1,93.87 324.48,92.73 324.86,95.06 325.24,96.71 325.63,104.01 326.01,117.45 326.39,93.75 326.77,86.49 327.15,94.65 327.54,96.25 327.92,96.9 328.3,89.47 328.68,85.33 329.07,82.59 329.45,89.77 329.83,84.72 330.21,77.64 330.59,82.21 330.98,84.78 331.36,106.66 331.74,92.9 332.12,93.84 332.5,91.81 332.89,85.95 333.27,88.11 333.65,95.57 334.03,93.52 334.42,112.19 334.8,92.89 335.18,101.37 335.56,96.39 335.94,91.37 336.33,98.13 336.71,89.21 337.09,84 337.47,79.84 337.86,76.81 338.24,75.11 338.62,73.16 339,71.96 339.38,77.51 339.77,70.95 340.15,84.69 340.53,85.63 340.91,85.68 341.29,92.98 341.68,98.39 342.06,99.82 342.44,90.66 342.82,100.13 343.21,104.13 343.59,117.17 343.97,96.82 344.35,96.72 344.73,100.28 345.12,92.71 345.5,93.7 345.88,87.7 346.26,86.27 346.65,84.8 347.03,80.89 347.41,84.5 347.79,81.73 348.17,83.51 348.56,79.27 348.94,79.6 349.32,81.52 349.7,96.35 350.08,83.05 350.47,94.41 350.85,144 351.23,97.82 351.61,98.91 352,93.28 352.38,97.62 352.76,95.47 353.14,90.52 353.52,86.32 353.91,93.73 354.29,91.63 354.67,91.86 355.05,89.22 355.44,77.39 355.82,76.97 356.2,76.89 356.58,75.57 356.96,77.09 357.35,75.52 357.73,76.46 358.11,91.35 358.49,85.32 358.87,91.42 359.26,103.62 359.64,102.73 360.02,108.14 360.4,119.66 360.79,108.53 361.17,115.57 361.55,107 361.93,109.84 362.31,104.09 362.7,95.97 363.08,95.65 363.46,96.29 363.84,88.49 364.23,83.6 364.61,80.1 364.99,86.49 365.37,77.11 365.75,82.97 366.14,85.54 366.52,79.51 366.9,84.11 367.28,86.42 367.66,91.55 368.05,102.74 368.43,95.15 368.81,96.62 369.19,100.87 369.58,93.4 369.96,123.53" stroke="#168a16"/>
<polyline points="220.91,60.06 221.29,73.03 221.67,77.63 222.06,88.1 222.44,68.16 222.82,55.58 223.2,64.69 223.59,60.61 223.97,56.29 224.35,70.77 224.73,43.26 225.11,70.64 225.5,61.28 225.88,43.54 226.26,66.47 226.64,65.72 227.02,71.73 227.41,66.41 227.79,86.73 228.17,76.47 228.55,59.44 228.94,71.85 229.32,76.06 229.7,71.77 230.08,71.64 230.46,73.47 230.85,69.43 231.23,85.59 231.61,66.66 231.99,74.81 232.38,61.92 232.76,66.81 233.14,73.41 233.52,65.76 233.9,73.2 234.29,58.78 234.67,69.03 235.05,65.2 235.43,84.03 235.81,66.75 236.2,85.56 236.58,76.32 236.96,83.41 237.34,100.92 237.73,91.32 238.11,98.41 238.49,90.74 238.87,82.09 239.25,86.72 239.64,82.29 240.02,97.85 240.4,85.21 240.78,81.9 241.17,74.1 241.55,85.25 241.93,74.12 242.31,73.51 242.69,87.27 243.08,82.52 243.46,70.44 243.84,82.87 244.22,83.72 244.6,68.33 244.99,74.51 245.37,80.2 245.75,79.13 246.13,84.33 246.52,86.07 246.9,85.58 247.28,78.72 247.66,96.98 248.04,83.76 248.43,79.44 248.81,79.2 249.19,85.75 249.57,72.46 249.96,66.15 250.34,77.96 250.72,63.71 251.1,73.57 251.48,59.49 251.87,58.59 252.25,70.94 252.63,83.95 253.01,72.15 253.39,81.66 253.78,82.8 254.16,76.45 254.54,65.79 254.92,78.69 255.31,80.97 255.69,94.43 256.07,85.08 256.45,90.93 256.83,75.35 257.22,82.28 257.6,76.99 257.98,75 258.36,74.45 258.75,63.77 259.13,65.71 259.51,70.58 259.89,65.93 260.27,62.34 260.66,55.99 261.04,66.06 261.42,56.74 261.8,73.79 262.18,72.5 262.57,83.87 262.95,67.68 263.33,83.64 263.71,85.02 264.1,71.57 264.48,139.85 264.86,84.83 265.24,71.39 265.62,79.52 266.01,69.9 266.39,78.76 266.77,68.41 267.15,64 267.54,70.05 267.92,55.25 268.3,71.02 268.68,68.71 269.06,66 269.45,58.87 269.83,69.7 270.21,72.41 270.59,69.27 270.97,64.23 271.36,80.09 271.74,89.76 272.12,83.72 272.5,80.34 272.89,91.27 273.27,87.31 273.65,103.15 274.03,88.16 274.41,86.47 274.8,80.79 275.18,81.06 275.56,74.99 275.94,86.04 276.33,70.64 276.71,86.2 277.09,76.11 277.47,61.55 277.85,62.82 278.24,83.72 278.62,65.22 279,73.9 279.38,77.68 279.76,71.41 280.15,73.47 280.53,65.18 280.91,88.56 281.29,81.94 281.68,80.68 282.06,94.43 282.44,71.3 282.82,66.55 283.2,84.32 283.59,75.45 283.97,79.11 284.35,73.33 284.73,78.97 285.12,65.63 285.5,79.6 285.88,58.77 286.26,65.69 286.64,49.21 287.03,80.78 287.41,69.13 287.79,79.13 288.17,71.36 288.55,68.24 288.94,80.21 289.32,85.71 289.7,89.44 290.08,75.53 290.47,68.31 290.85,69.72 291.23,78.74 291.61,86.19 291.99,80.81 292.38,88.48 292.76,87.47 293.14,65.24 293.52,73.77 293.91,67.33 294.29,70.21 294.67,56.46 295.05,54.61 295.43,71.24 295.82,68.05 296.2,70.8 296.58,56.05 296.96,57.56 297.34,70.64 297.73,51.87 298.11,70.79 298.49,81.65 298.87,89.06 299.26,75.26 299.64,72.18 300.02,79.39 300.4,71.72 300.78,64.36 301.17,72.64 301.55,63.82 301.93,55.41 302.31,62.37 302.7,68.79 303.08,59.36 303.46,57.44 303.84,44.5 304.22,64.46 304.61,73.52 304.99,59.95 305.37,60.78 305.75,67.78 306.13,61.6 306.52,64.98 306.9,59.51 307.28,76.68 307.66,76.78 308.05,72.37 308.43,76.66 308.81,63.07 309.19,68.16 309.57,72.02 309.96,58.76 310.34,65.07 310.72,59.33 311.1,58.85 311.49,64.27 311.87,62.44 312.25,59.84 312.63,67.31 313.01,60.99 313.4,105.28 313.78,56.31 314.16,66.8 314.54,42.29 314.92,69.91 315.31,58.59 315.69,59.29 316.07,56.44 316.45,74.22 316.84,68.32 317.22,70.59 317.6,60.43 317.98,65.66 318.36,63.6 318.75,59.98 319.13,45.8 319.51,52.58 319.89,48.25 320.28,60.43 320.66,47.12 321.04,62.37 321.42,46.07 321.8,53.38 322.19,62.91 322.57,66.76 322.95,60.57 323.33,60.93 323.71,68.2 324.1,68.15 324.48,69.42 324.86,72.2 325.24,70.16 325.63,66.68 326.01,58.37 326.39,62.7 326.77,70.94 327.15,52.69 327.54,54.62 327.92,64.33 328.3,53.2 328.68,64.19 329.07,65.23 329.45,64.73 329.83,46.75 330.21,58.72 330.59,58.19 330.98,61.24 331.36,66.21 331.74,60.79 332.12,60.78 332.5,52.26 332.89,75.29 333.27,57.92 333.65,65.38 334.03,84.33 334.42,63.48 334.8,58.05 335.18,61.05 335.56,66.12 335.94,64.92 336.33,79.42 336.71,59.44 337.09,58.48 337.47,65.26 337.86,55.08 338.24,60.79 338.62,37.82 339,64.87 339.38,63.08 339.77,73.94 340.15,61.84 340.53,59.67 340.91,62.5 341.29,69.62 341.68,59.93 342.06,66.77 342.44,61.06 342.82,72.41 343.21,86.04 343.59,73.98 343.97,80.57 344.35,65.66 344.73,75.53 345.12,71.06 345.5,67.34 345.88,76.84 346.26,65.98 346.65,54.34 347.03,63.97 347.41,59.78 347.79,56.72 348.17,63.33 348.56,61.13 348.94,56.75 349.32,64.79 349.7,63.46 350.08,67.08 350.47,76.08 350.85,79.74 351.23,55.72 351.61,61.13 352,72.85 352.38,64.05 352.76,61.69 353.14,61.12 353.52,69.25 353.91,75.16 354.29,71.37 354.67,61.12 355.05,46.77 355.44,43.48 355.82,56.29 356.2,56.55 356.58,44.91 356.96,39.32 357.35,64.13 357.73,55.73 358.11,61.08 358.49,67.83 358.87,71.06 359.26,74.33 359.64,74.65 360.02,88.91 360.4,78.83 360.79,73.8 361.17,74.33 361.55,73.82 361.93,76.83 362.31,77.04 362.7,62.44 363.08,77.58 363.46,73.61 363.84,63.85 364.23,71.88 364.61,81.02 364.99,74.36 365.37,72.78 365.75,70.31 366.14,72.6 366.52,61.91 366.9,64.94 367.28,67.8 367.66,76.01 368.05,66.45 368.43,68.14 368.81,60.12 369.19,82.66 369.58,79.38 369.96,68.02" stroke="#9e9e9e"/>
<polyline points="220.91,44.47 221.29,37.48 221.67,39.5 222.06,39.62 222.44,33.68 222.82,51.89 223.2,46.2 223.59,48.01 223.97,36.77 224.35,26.51 224.73,31.23 225.11,27.02 225.5,43.25 225.88,30.39 226.26,38.67 226.64,22.54 227.02,30.42 227.41,32.15 227.79,41.03 228.17,38.69 228.55,40.29 228.94,48.52 229.32,50.68 229.7,48.78 230.08,52.14 230.46,51.44 230.85,48.02 231.23,49.03 231.61,36.74 231.99,49.86 232.38,31.27 232.76,38.64 233.14,36.34 233.52,40.55 233.9,32.16 234.29,33.28 234.67,31.61 235.05,38.4 235.43,36.83 235.81,28.43 236.2,41.13 236.58,51.06 236.96,44.21 237.34,54.34 237.73,110.81 238.11,53.66 238.49,120.49 238.87,71.79 239.25,60.72 239.64,53.5 240.02,57.86 240.4,50.18 240.78,44.15 241.17,51.84 241.55,37.88 241.93,33.56 242.31,36.04 242.69,35.06 243.08,35.7 243.46,28.63 243.84,43.37 244.22,45.92 244.6,43.49 244.99,55.23 245.37,61.26 245.75,58.47 246.13,51.65 246.52,52.21 246.9,66.45 247.28,69.25 247.66,58.88 248.04,57.17 248.43,54.43 248.81,47.08 249.19,40.37 249.57,43.88 249.96,38.49 250.34,47.55 250.72,46.65 251.1,36.84 251.48,34.23 251.87,34.44 252.25,36.3 252.63,36.3 253.01,37.65 253.39,56.33 253.78,51.31 254.16,45.15 254.54,45.82 254.92,61.25 255.31,44.58 255.69,56.11 256.07,55.2 256.45,51.87 256.83,47.87 257.22,60.58 257.6,41.99 257.98,45.1 258.36,47.68 258.75,41.58 259.13,52.03 259.51,40.41 259.89,34.48 260.27,40.62 260.66,38.68 261.04,38.41 261.42,38.34 261.8,33.34 262.18,41.9 262.57,45.14 262.95,41.5 263.33,32.85 263.71,50.29 264.1,45.73 264.48,60.41 264.86,41.45 265.24,46.04 265.62,40.87 266.01,48.61 266.39,53.01 266.77,37.66 267.15,35.85 267.54,44.05 267.92,45.91 268.3,31.62 268.68,34.98 269.06,16.48 269.45,38.15 269.83,38.08 270.21,36.02 270.59,47.24 270.97,43.15 271.36,27.5 271.74,40.53 272.12,44.95 272.5,50.57 272.89,39.39 273.27,39.87 273.65,131.55 274.03,48.24 274.41,44.01 274.8,43.64 275.18,50.45 275.56,41.09 275.94,58.17 276.33,51.33 276.71,43.34 277.09,40.67 277.47,46.54 277.85,35.86 278.24,30.73 278.62,35.01 279,37.48 279.38,35.05 279.76,39.92 280.15,52.54 280.53,48.73 280.91,41.09 281.29,59.15 281.68,52.6 282.06,56.36 282.44,59.81 282.82,60.17 283.2,52 283.59,49.45 283.97,48.09 284.35,58.15 284.73,48.78 285.12,42.9 285.5,37.37 285.88,37.85 286.26,35.76 286.64,33.32 287.03,34.86 287.41,46.02 287.79,41.25 288.17,48.08 288.55,61.39 288.94,59.28 289.32,36.88 289.7,60.63 290.08,70.19 290.47,60.7 290.85,47.52 291.23,57.94 291.61,54.26 291.99,57.47 292.38,54.37 292.76,43.12 293.14,43.64 293.52,46.75 293.91,37.54 294.29,33.79 294.67,40.18 295.05,35.21 295.43,34.16 295.82,39.79 296.2,27.88 296.58,37.43 296.96,41.79 297.34,50.6 297.73,49.95 298.11,33.58 298.49,53.34 298.87,44.69 299.26,51.32 299.64,46.27 300.02,45.81 300.4,54.25 300.78,49.43 301.17,44.5 301.55,41.56 301.93,39.43 302.31,38.3 302.7,29.37 303.08,22.73 303.46,26.62 303.84,34.78 304.22,27.79 304.61,31.38 304.99,30.82 305.37,24.34 305.75,41.15 306.13,43.18 306.52,52.38 306.9,51.62 307.28,56.3 307.66,44.14 308.05,54.28 308.43,60.81 308.81,44.12 309.19,65.02 309.57,49.16 309.96,46.3 310.34,47 310.72,50.03 311.1,46.53 311.49,45.35 311.87,35.44 312.25,54.03 312.63,40.33 313.01,34.83 313.4,39.2 313.78,47.55 314.16,37.85 314.54,42.53 314.92,33.85 315.31,31.71 315.69,42.31 316.07,57.13 316.45,46.69 316.84,52.06 317.22,41.2 317.6,33.15 317.98,39.92 318.36,25.46 318.75,25.57 319.13,27.81 319.51,35.53 319.89,26.76 320.28,36.53 320.66,20.61 321.04,28.19 321.42,21.91 321.8,31.22 322.19,47.69 322.57,31.36 322.95,29.58 323.33,24.97 323.71,42.92 324.1,43.2 324.48,37.35 324.86,45.52 325.24,48.36 325.63,47.1 326.01,23.08 326.39,44.75 326.77,47.33 327.15,42.8 327.54,38.19 327.92,27.39 328.3,27.16 328.68,25.78 329.07,28.79 329.45,26.87 329.83,31.9 330.21,37.93 330.59,15.01 330.98,32.49 331.36,23.92 331.74,34.15 332.12,34.21 332.5,36.27 332.89,46.06 333.27,39.04 333.65,37.47 334.03,35.78 334.42,39.04 334.8,36.28 335.18,41.51 335.56,43.55 335.94,55.97 336.33,45.2 336.71,29.49 337.09,36.77 337.47,29.9 337.86,34.27 338.24,35.29 338.62,15.65 339,25.93 339.38,18.15 339.77,25.04 340.15,31.66 340.53,46.29 340.91,32.89 341.29,46.22 341.68,52.91 342.06,32.09 342.44,37.33 342.82,39.13 343.21,43.69 343.59,44.22 343.97,40.51 344.35,41.1 344.73,40.04 345.12,33.69 345.5,52.93 345.88,28.74 346.26,37.2 346.65,26.05 347.03,23.19 347.41,36.45 347.79,25.87 348.17,26.58 348.56,37.46 348.94,37.51 349.32,34.62 349.7,51.64 350.08,41.28 350.47,38.44 350.85,43.84 351.23,52.45 351.61,45.07 352,32.7 352.38,33.84 352.76,42.6 353.14,45.67 353.52,38.41 353.91,35.85 354.29,37.98 354.67,33.33 355.05,24.91 355.44,21.31 355.82,42.84 356.2,19.99 356.58,26.06 356.96,20.37 357.35,29.72 357.73,28.7 358.11,23.13 358.49,56.43 358.87,28.95 359.26,41.1 359.64,57.23 360.02,65.37 360.4,47.79 360.79,58.47 361.17,46.26 361.55,52.23 361.93,54.69 362.31,46.63 362.7,50.68 363.08,45.2 363.46,42.37 363.84,43.36 364.23,37.9 364.61,35.85 364.99,48.59 365.37,40.37 365.75,39.12 366.14,41.27 366.52,50.34 366.9,45.13 367.28,41.08 367.66,44.31 368.05,37.84 368.43,54.29 368.81,55.23 369.19,57.88 369.58,57.41 369.96,59.97" stroke="#707070"/>
<polyline points="220.91,33.04 221.29,71.03 221.67,39.77 222.06,46.65 222.44,36.82 222.82,42.98 223.2,29.89 223.59,41.3 223.97,42.87 224.35,31.9 224.73,31.16 225.11,36.25 225.5,35.35 225.88,28.48 226.26,29.77 226.64,40.7 227.02,41.73 227.41,55.08 227.79,30.34 228.17,47.21 228.55,36.96 228.94,45.51 229.32,122.7 229.7,38.05 230.08,47.17 230.46,37.25 230.85,54.64 231.23,35.71 231.61,54.87 231.99,38.67 232.38,31.16 232.76,36.08 233.14,39.54 233.52,42.4 233.9,38.94 234.29,29.02 234.67,31.83 235.05,42.93 235.43,53.19 235.81,41.28 236.2,60.81 236.58,56.71 236.96,61.06 237.34,51.97 237.73,57.69 238.11,57.06 238.49,58.91 238.87,66.07 239.25,56.07 239.64,48.32 240.02,58.32 240.4,51.71 240.78,56.09 241.17,45.67 241.55,47.13 241.93,44.41 242.31,47.72 242.69,37.31 243.08,52.79 243.46,52.89 243.84,55.47 244.22,46.98 244.6,57.54 244.99,58.81 245.37,49.31 245.75,47.01 246.13,52.49 246.52,78.43 246.9,65.49 247.28,66.57 247.66,67.35 248.04,60.41 248.43,41.98 248.81,56.9 249.19,58.44 249.57,45.45 249.96,48.49 250.34,46.42 250.72,51.29 251.1,45.01 251.48,41.12 251.87,59.28 252.25,57.35 252.63,37.27 253.01,40.24 253.39,52.03 253.78,57.48 254.16,52.52 254.54,61.75 254.92,56.37 255.31,41.9 255.69,54.26 256.07,46.46 256.45,56.9 256.83,51.39 257.22,42.08 257.6,61.33 257.98,51.63 258.36,48.07 258.75,42.75 259.13,31.31 259.51,36.92 259.89,53.3 260.27,43.84 260.66,49.09 261.04,50.08 261.42,28.36 261.8,53.6 262.18,45.01 262.57,53.92 262.95,43.22 263.33,48.54 263.71,51.47 264.1,53.94 264.48,45.1 264.86,61.32 265.24,59.42 265.62,61.52 266.01,41.09 266.39,51.88 266.77,55.59 267.15,48.72 267.54,24.19 267.92,42.79 268.3,34.26 268.68,36.71 269.06,40.51 269.45,46.5 269.83,45.03 270.21,47 270.59,63.57 270.97,28.86 271.36,44.32 271.74,53.1 272.12,57.88 272.5,64.39 272.89,52.41 273.27,62.15 273.65,57.31 274.03,71.46 274.41,56.88 274.8,42.89 275.18,58.78 275.56,48.21 275.94,51.88 276.33,41.38 276.71,39.67 277.09,45.81 277.47,49.44 277.85,42.28 278.24,44.15 278.62,49.67 279,42.13 279.38,43.42 279.76,54.99 280.15,50.44 280.53,28.46 280.91,46.17 281.29,52.97 281.68,35.23 282.06,58.81 282.44,74.67 282.82,94.21 283.2,66.55 283.59,51.94 283.97,45.31 284.35,68.44 284.73,41.66 285.12,58.54 285.5,45.87 285.88,43.3 286.26,42.86 286.64,45.79 287.03,44.54 287.41,55.15 287.79,45.05 288.17,40.85 288.55,42.77 288.94,31.37 289.32,44.91 289.7,49.27 290.08,43.39 290.47,55.48 290.85,105.28 291.23,75.6 291.61,48.06 291.99,52.65 292.38,49.06 292.76,56.35 293.14,48.97 293.52,34.81 293.91,44.58 294.29,53.81 294.67,46.86 295.05,31.62 295.43,50.18 295.82,61.7 296.2,59.88 296.58,53.27 296.96,37.81 297.34,44.65 297.73,52.68 298.11,58.27 298.49,50.62 298.87,52.2 299.26,56.28 299.64,54.42 300.02,58.63 300.4,38.38 300.78,69.57 301.17,48.57 301.55,55.18 301.93,39.39 302.31,44.19 302.7,37.22 303.08,34.03 303.46,35.22 303.84,28.5 304.22,47.03 304.61,29.56 304.99,39.84 305.37,36.89 305.75,29.84 306.13,35.48 306.52,31.22 306.9,66.37 307.28,58.49 307.66,45.46 308.05,102.51 308.43,56.61 308.81,42.26 309.19,48.46 309.57,61.93 309.96,49.78 310.34,46.76 310.72,49.46 311.1,48.88 311.49,45.16 311.87,56.21 312.25,42.23 312.63,49.72 313.01,38.67 313.4,38.37 313.78,48.92 314.16,37.84 314.54,40.66 314.92,44.74 315.31,39.9 315.69,49.07 316.07,49.92 316.45,48.04 316.84,49.81 317.22,40.96 317.6,68.34 317.98,51.98 318.36,64.08 318.75,50.82 319.13,42.76 319.51,42.27 319.89,32.33 320.28,35.07 320.66,56.89 321.04,43.02 321.42,21.68 321.8,21.69 322.19,33.41 322.57,46.92 322.95,19.07 323.33,53.33 323.71,36.03 324.1,40.2 324.48,39.3 324.86,51.52 325.24,46.62 325.63,35.99 326.01,48.64 326.39,55.74 326.77,44.92 327.15,43.39 327.54,43.99 327.92,47.62 328.3,35.66 328.68,39.17 329.07,45.78 329.45,33.68 329.83,34.72 330.21,32.93 330.59,47.34 330.98,40.58 331.36,31.92 331.74,29.42 332.12,35.4 332.5,38.46 332.89,35.74 333.27,35.39 333.65,30.81 334.03,42.13 334.42,51.14 334.8,43.62 335.18,62.64 335.56,46.72 335.94,49.65 336.33,44.92 336.71,39.08 337.09,40.42 337.47,49.96 337.86,39.55 338.24,41.39 338.62,34.21 339,30.71 339.38,41.01 339.77,28.33 340.15,24.79 340.53,38.17 340.91,31.89 341.29,50.66 341.68,45.07 342.06,35.09 342.44,57.77 342.82,49.33 343.21,53.34 343.59,38.12 343.97,38.36 344.35,51.81 344.73,45.29 345.12,65.33 345.5,37.04 345.88,39.28 346.26,30.05 346.65,57.29 347.03,34.82 347.41,39.36 347.79,56.43 348.17,41.61 348.56,37.25 348.94,31.11 349.32,36.77 349.7,43.47 350.08,37.33 350.47,42.99 350.85,48.53 351.23,52.63 351.61,44.62 352,45.35 352.38,32.8 352.76,50.73 353.14,34.49 353.52,43.27 353.91,35.43 354.29,49.74 354.67,47.45 355.05,40.98 355.44,29.72 355.82,33.7 356.2,28.12 356.58,30.95 356.96,25.55 357.35,32.75 357.73,39.75 358.11,33.62 358.49,39.26 358.87,29.04 359.26,46.55 359.64,47.15 360.02,52.84 360.4,43.6 360.79,47.38 361.17,50.11 361.55,65.14 361.93,66.98 362.31,52.43 362.7,47.7 363.08,40.3 363.46,63.89 363.84,49.42 364.23,59.35 364.61,52.03 364.99,44.92 365.37,34.77 365.75,45.8 366.14,47.28 366.52,44.7 366.9,33.44 367.28,25.79 367.66,58.01 368.05,49.85 368.43,52.69 368.81,41.73 369.19,48.5 369.58,40.61 369.96,60.56" stroke="#cdcdcd"/>
<polyline points="220.91,28.23 221.29,21.63 221.67,22.3 222.06,30.94 222.44,29.79 222.82,30.33 223.2,23.82 223.59,25.64 223.97,20.38 224.35,32.32 224.73,14.83 225.11,23.12 225.5,19.52 225.88,24.11 226.26,26.02 226.64,22.66 227.02,21.77 227.41,27.82 227.79,28.49 228.17,25.16 228.55,33.63 228.94,37.39 229.32,28.23 229.7,33.66 230.08,39.71 230.46,33.71 230.85,31.22 231.23,33.87 231.61,34.29 231.99,25.62 232.38,20.39 232.76,25.28 233.14,27.37 233.52,21.64 233.9,20.28 234.29,26.18 234.67,23.33 235.05,22.65 235.43,31.02 235.81,36.4 236.2,33.07 236.58,35.97 236.96,33.95 237.34,47.71 237.73,46.09 238.11,47.95 238.49,52.84 238.87,43.48 239.25,40.93 239.64,46.28 240.02,34.44 240.4,35.8 240.78,35.26 241.17,34.97 241.55,31.03 241.93,41.56 242.31,31.44 242.69,31.46 243.08,43.47 243.46,33.34 243.84,36.9 244.22,32.48 244.6,39.36 244.99,38.1 245.37,37.12 245.75,43.93 246.13,37.21 246.52,41.18 246.9,38.48 247.28,43.59 247.66,35.24 248.04,36.72 248.43,39.24 248.81,33.51 249.19,28.57 249.57,24.2 249.96,39.5 250.34,26.26 250.72,27.88 251.1,30.69 251.48,35.48 251.87,24.66 252.25,37.82 252.63,29.48 253.01,26.69 253.39,42.07 253.78,36.54 254.16,42.44 254.54,35.5 254.92,29.84 255.31,27.8 255.69,47.02 256.07,41.11 256.45,34.43 256.83,29.2 257.22,33.65 257.6,37.85 257.98,30.92 258.36,30.83 258.75,30.38 259.13,32.06 259.51,26.05 259.89,26.49 260.27,28.77 260.66,29.91 261.04,35.89 261.42,32.76 261.8,25.29 262.18,33.26 262.57,40.5 262.95,27.66 263.33,32.55 263.71,25.42 264.1,36.16 264.48,39.1 264.86,44.11 265.24,30.04 265.62,23.07 266.01,38.78 266.39,36.45 266.77,28.66 267.15,34.18 267.54,29.99 267.92,29.31 268.3,25.97 268.68,21.3 269.06,26.7 269.45,22.43 269.83,29.43 270.21,26.16 270.59,39 270.97,36.23 271.36,25.76 271.74,33.41 272.12,28.33 272.5,29.23 272.89,26 273.27,29.09 273.65,28.5 274.03,34.42 274.41,37.51 274.8,37.68 275.18,36.29 275.56,39.13 275.94,35.76 276.33,32.97 276.71,30.74 277.09,33.25 277.47,40.84 277.85,31.51 278.24,30.13 278.62,26.29 279,29.56 279.38,36.64 279.76,38.2 280.15,25.82 280.53,33.26 280.91,28.96 281.29,28.29 281.68,43.47 282.06,37.64 282.44,37.18 282.82,36.38 283.2,36.02 283.59,37.12 283.97,36.56 284.35,44.16 284.73,36.75 285.12,38.93 285.5,33.95 285.88,36.41 286.26,30.66 286.64,29.5 287.03,32.1 287.41,32.47 287.79,34.32 288.17,38.01 288.55,37.78 288.94,40.67 289.32,37.46 289.7,40.34 290.08,38.29 290.47,48.23 290.85,37.26 291.23,45.15 291.61,44.33 291.99,40.64 292.38,41.17 292.76,35.43 293.14,38.14 293.52,38.99 293.91,36.34 294.29,24.22 294.67,29.4 295.05,34.61 295.43,28.29 295.82,35.98 296.2,19.56 296.58,36.59 296.96,27.38 297.34,27.98 297.73,38.9 298.11,31.16 298.49,28.55 298.87,31.85 299.26,33.29 299.64,29.97 300.02,33.6 300.4,31.93 300.78,33 301.17,27.67 301.55,33.78 301.93,23.43 302.31,28.34 302.7,30.02 303.08,21.98 303.46,15.1 303.84,19.04 304.22,27.26 304.61,22.6 304.99,30.16 305.37,30.67 305.75,31.96 306.13,46.36 306.52,36.2 306.9,44.38 307.28,44.47 307.66,49.61 308.05,61.02 308.43,47.84 308.81,38.7 309.19,33.73 309.57,40.98 309.96,33.92 310.34,38.93 310.72,45.27 311.1,33.11 311.49,29.82 311.87,32.54 312.25,27.55 312.63,25.21 313.01,31.76 313.4,34.62 313.78,28.56 314.16,29.01 314.54,30.47 314.92,24.69 315.31,21.94 315.69,33.42 316.07,28.49 316.45,27.61 316.84,28.71 317.22,26.35 317.6,32.12 317.98,24.59 318.36,16.02 318.75,19.92 319.13,25.11 319.51,17.65 319.89,13.74 320.28,18.19 320.66,23.17 321.04,13.26 321.42,27.83 321.8,19.68 322.19,22.63 322.57,28.57 322.95,16.74 323.33,21.46 323.71,29.56 324.1,21.41 324.48,27.24 324.86,35.24 325.24,29.77 325.63,25.48 326.01,23.89 326.39,26.3 326.77,26.6 327.15,23.68 327.54,25.89 327.92,17.58 328.3,21.31 328.68,19.41 329.07,17.39 329.45,25.06 329.83,23.43 330.21,12.57 330.59,18.95 330.98,22.63 331.36,20.24 331.74,25.16 332.12,22.26 332.5,27.87 332.89,24.08 333.27,34.16 333.65,20.42 334.03,30.22 334.42,35.99 334.8,29.51 335.18,30.34 335.56,27.55 335.94,33.5 336.33,25.01 336.71,7.93 337.09,31.22 337.47,22.05 337.86,24.27 338.24,20.96 338.62,30.42 339,26.94 339.38,19.1 339.77,22.13 340.15,14.67 340.53,27.45 340.91,24.36 341.29,12.06 341.68,31.65 342.06,33.43 342.44,29.94 342.82,30.48 343.21,26.18 343.59,29.53 343.97,33.44 344.35,27.89 344.73,14.89 345.12,20.7 345.5,39.88 345.88,25.84 346.26,28.77 346.65,20.85 347.03,24.63 347.41,14.24 347.79,19.52 348.17,20.19 348.56,24.32 348.94,26.19 349.32,25.09 349.7,21.14 350.08,25.7 350.47,30.78 350.85,23.23 351.23,29 351.61,30.54 352,34.06 352.38,32.53 352.76,32.06 353.14,41.64 353.52,21.29 353.91,22.05 354.29,24.49 354.67,16.93 355.05,18.97 355.44,18.7 355.82,32.72 356.2,21.85 356.58,18.72 356.96,14.41 357.35,14.66 357.73,18.39 358.11,33.15 358.49,40.32 358.87,28.6 359.26,33.32 359.64,30.55 360.02,37.66 360.4,37.36 360.79,47.01 361.17,38.03 361.55,42.8 361.93,38.74 362.31,37.66 362.7,39.64 363.08,36.31 363.46,36.63 363.84,31.44 364.23,31.49 364.61,35.73 364.99,35.27 365.37,23.41 365.75,32.72 366.14,27.71 366.52,31.41 366.9,37.14 367.28,39.18 367.66,36.05 368.05,36.58 368.43,35.91 368.81,46.23 369.19,43.6 369.58,41.54 369.96,33.21" stroke="#333333"/>
</g>
<line x1="300.02" y1="2.6" x2="300.02" y2="150.4" stroke="#9a2aaa" stroke-width="1.2" stroke-dasharray="2,1.4"/>
<line x1="326.39" y1="2.6" x2="326.39" y2="150.4" stroke="#9a2aaa" stroke-width="1.2" stroke-dasharray="2,1.4"/>
<rect x="213.5" y="2.6" width="163.8" height="147.8" fill="none" stroke="#555" stroke-width="1.0"/>
<g stroke="#333" stroke-width="0.8"><line x1="229.7" y1="150.4" x2="229.7" y2="152.6"/><line x1="247.28" y1="150.4" x2="247.28" y2="152.6"/><line x1="264.86" y1="150.4" x2="264.86" y2="152.6"/><line x1="282.44" y1="150.4" x2="282.44" y2="152.6"/><line x1="300.02" y1="150.4" x2="300.02" y2="152.6"/><line x1="317.6" y1="150.4" x2="317.6" y2="152.6"/><line x1="335.18" y1="150.4" x2="335.18" y2="152.6"/><line x1="352.76" y1="150.4" x2="352.76" y2="152.6"/><line x1="370.34" y1="150.4" x2="370.34" y2="152.6"/><line x1="211.3" y1="144" x2="213.5" y2="144"/><line x1="211.3" y1="116.34" x2="213.5" y2="116.34"/><line x1="211.3" y1="88.68" x2="213.5" y2="88.68"/><line x1="211.3" y1="61.02" x2="213.5" y2="61.02"/><line x1="211.3" y1="33.36" x2="213.5" y2="33.36"/><line x1="211.3" y1="5.7" x2="213.5" y2="5.7"/></g>
<text x="229.7" y="159" font-size="6.85" text-anchor="middle">2004</text>
<text x="247.28" y="159" font-size="6.85" text-anchor="middle">2006</text>
<text x="264.86" y="159" font-size="6.85" text-anchor="middle">2008</text>
<text x="282.44" y="159" font-size="6.85" text-anchor="middle">2010</text>
<text x="300.02" y="159" font-size="6.85" text-anchor="middle">2012</text>
<text x="317.6" y="159" font-size="6.85" text-anchor="middle">2014</text>
<text x="335.18" y="159" font-size="6.85" text-anchor="middle">2016</text>
<text x="352.76" y="159" font-size="6.85" text-anchor="middle">2018</text>
<text x="370.34" y="159" font-size="6.85" text-anchor="middle">2020</text>
<text x="209.9" y="146.45" font-size="6.85" text-anchor="end">0.1</text>
<text x="209.9" y="118.79" font-size="6.85" text-anchor="end">0.2</text>
<text x="209.9" y="91.13" font-size="6.85" text-anchor="end">0.3</text>
<text x="209.9" y="63.47" font-size="6.85" text-anchor="end">0.4</text>
<text x="209.9" y="35.81" font-size="6.85" text-anchor="end">0.5</text>
<text x="209.9" y="8.15" font-size="6.85" text-anchor="end">0.6</text>
<text x="295.4" y="167.6" font-size="7" text-anchor="middle">Year</text>
<text transform="translate(197.2,76.5) rotate(-90)" x="0" y="0" font-size="7.8" text-anchor="middle">Surface Reflectance</text>
<rect x="219.8" y="7.8" width="20.7" height="13.7" rx="1.5" fill="#fff" fill-opacity="0.85" stroke="#9a9a9a" stroke-width="0.8"/>
<text x="230.5" y="17.9" font-size="10.6" font-weight="bold" text-anchor="middle" letter-spacing="0.9">(b)</text>
<defs><clipPath id="ccc"><rect x="410.4" y="2.6" width="163.6" height="147.8"/></clipPath></defs>
<g stroke="#c4c4c4" stroke-width="0.7" stroke-dasharray="1,1.2"><line x1="425.4" y1="2.6" x2="425.4" y2="150.4"/><line x1="443.28" y1="2.6" x2="443.28" y2="150.4"/><line x1="461.16" y1="2.6" x2="461.16" y2="150.4"/><line x1="479.04" y1="2.6" x2="479.04" y2="150.4"/><line x1="496.92" y1="2.6" x2="496.92" y2="150.4"/><line x1="514.8" y1="2.6" x2="514.8" y2="150.4"/><line x1="532.68" y1="2.6" x2="532.68" y2="150.4"/><line x1="550.56" y1="2.6" x2="550.56" y2="150.4"/><line x1="568.44" y1="2.6" x2="568.44" y2="150.4"/><line x1="410.4" y1="133.9" x2="574.0" y2="133.9"/><line x1="410.4" y1="112.3" x2="574.0" y2="112.3"/><line x1="410.4" y1="90.7" x2="574.0" y2="90.7"/><line x1="410.4" y1="69.1" x2="574.0" y2="69.1"/><line x1="410.4" y1="47.5" x2="574.0" y2="47.5"/><line x1="410.4" y1="25.9" x2="574.0" y2="25.9"/><line x1="410.4" y1="4.3" x2="574.0" y2="4.3"/></g>
<g clip-path="url(#ccc)" fill="none" stroke-width="1.05" stroke-linejoin="round">
<polyline points="417.58,44.85 418.32,49.37 419.07,39.34 419.81,32.75 420.56,27.23 421.3,26.62 422.05,32.31 422.79,35.81 423.54,43.34 424.28,43.72 425.03,51.09 425.77,51.82 426.52,48.33 427.26,43.14 428.01,37.54 428.75,32.17 429.5,29.62 430.24,33.13 430.99,37.91 431.73,48.07 432.48,56.85 433.22,62.35 433.97,67.85 434.71,69.46 435.46,66.81 436.2,62 436.95,55.72 437.69,54.7 438.44,52.43 439.18,50.74 439.93,54.87 440.67,57 441.42,58.83 442.16,62.13 442.91,64.44 443.65,63.54 444.4,65.28 445.14,55.45 445.89,52.43 446.63,48.51 447.38,43.19 448.12,42.57 448.87,46.29 449.61,50.98 450.36,54.02 451.1,58 451.85,58.34 452.59,59.04 453.34,56.35 454.08,49.47 454.83,45.08 455.57,41.51 456.32,38.11 457.06,39.41 457.81,43.6 458.55,48.67 459.3,51.9 460.04,59.16 460.79,57.13 461.53,57.21 462.28,56.57 463.02,48.67 463.77,43.9 464.51,37.17 465.26,39.35 466,40.06 466.75,43.22 467.49,49.86 468.24,61.72 468.98,65.79 469.73,68.22 470.47,69.45 471.22,63.24 471.96,61.04 472.71,52.33 473.45,48.33 474.2,41.8 474.94,43.5 475.69,46.19 476.43,51.81 477.18,51.88 477.92,56.95 478.67,59.19 479.41,58.73 480.16,57.79 480.9,55.69 481.65,51.98 482.39,48.59 483.14,43.82 483.88,47.56 484.63,48.96 485.37,52.96 486.12,57.28 486.86,61.19 487.61,66.07 488.35,66.58 489.1,60.99 489.84,53.6 490.59,47.48 491.33,42.38 492.08,39.71 492.82,38.77 493.57,41.71 494.31,44.2 495.06,50.77 495.8,53.44 496.55,55.99 497.29,54.89 498.04,51.22 498.78,41.38 499.53,35.42 500.27,30.02 501.02,32.88 501.76,32.69 502.51,37.95 503.25,43.21 504,53.91 504.74,55.24 505.49,58.65 506.23,61.78 506.98,58.56 507.72,53.49 508.47,46.81 509.21,41.19 509.96,36.57 510.7,39.34 511.45,39.76 512.19,43.46 512.94,44.74 513.68,48.96 514.43,49.83 515.17,52.67 515.92,47.44 516.66,41.42 517.41,31.09 518.15,26.78 518.9,26.31 519.64,27.64 520.39,29.24 521.13,34.63 521.88,38.96 522.62,40.45 523.37,39.74 524.11,43.14 524.86,40.81 525.6,37.06 526.35,32.39 527.09,26.38 527.84,24.81 528.58,27.34 529.33,30.43 530.07,35.52 530.82,40.53 531.56,46.84 532.31,47.79 533.05,46.9 533.8,44.66 534.54,38.57 535.29,32.91 536.03,27.78 536.78,24.81 537.52,27.87 538.27,31.06 539.01,34.62 539.76,39.88 540.5,42.67 541.25,49.9 541.99,46.03 542.74,45.04 543.48,39.69 544.23,33.9 544.97,29.97 545.72,28.88 546.46,31.18 547.21,32.1 547.95,38.41 548.7,42.25 549.44,44.35 550.19,47.97 550.93,44.25 551.68,42.32 552.42,35.13 553.17,31.89 553.91,27.84 554.66,25.7 555.4,27.26 556.15,34.6 556.89,41.05 557.64,49.62 558.38,54.15 559.13,60.83 559.87,58.74 560.62,58.13 561.36,53.7 562.11,47.79 562.85,43.57 563.6,39.04 564.34,37.89 565.09,41.73 565.83,45.69 566.58,49.26 567.32,54.63" stroke="#cdcdcd"/>
<polyline points="417.58,76.86 418.32,76 419.07,72.67 419.81,72.95 420.56,75.56 421.3,74.4 422.05,77.61 422.79,80 423.54,86.01 424.28,87.01 425.03,89.42 425.77,88.65 426.52,89.02 427.26,84.91 428.01,82.64 428.75,73.93 429.5,78.09 430.24,77.81 430.99,88.39 431.73,100.59 432.48,111.46 433.22,119.34 433.97,120.43 434.71,119.54 435.46,113.63 436.2,112.39 436.95,103.67 437.69,98.68 438.44,91.57 439.18,92.35 439.93,89.59 440.67,91.68 441.42,98.66 442.16,99.52 442.91,101.65 443.65,99.15 444.4,96.06 445.14,94.25 445.89,89.33 446.63,84.34 447.38,80.14 448.12,78.81 448.87,82.12 449.61,86.04 450.36,91.78 451.1,96.63 451.85,99.24 452.59,99.14 453.34,93.51 454.08,91.99 454.83,86.12 455.57,80.31 456.32,79.34 457.06,78.55 457.81,80.57 458.55,83.94 459.3,91.68 460.04,92.56 460.79,97.31 461.53,96.63 462.28,93.24 463.02,89.12 463.77,83.57 464.51,80.36 465.26,78.1 466,77.92 466.75,84.09 467.49,88.97 468.24,100.5 468.98,108.87 469.73,109.05 470.47,111.96 471.22,109.4 471.96,98.69 472.71,93.69 473.45,85.11 474.2,83.65 474.94,82.68 475.69,86.78 476.43,90.94 477.18,94.2 477.92,96.91 478.67,98.01 479.41,95.86 480.16,97.83 480.9,90.83 481.65,87.89 482.39,82.94 483.14,82.15 483.88,82.11 484.63,83.44 485.37,87.85 486.12,90.78 486.86,95.56 487.61,95.26 488.35,96.61 489.1,93.8 489.84,87.7 490.59,82.91 491.33,78.79 492.08,76.07 492.82,75.99 493.57,76.4 494.31,80.17 495.06,84.62 495.8,87.45 496.55,91.15 497.29,89.58 498.04,88.67 498.78,79.41 499.53,74.94 500.27,70.31 501.02,68.33 501.76,70.36 502.51,73.7 503.25,75.96 504,81.69 504.74,86.59 505.49,86.84 506.23,89.5 506.98,82.18 507.72,79.41 508.47,73.21 509.21,65.21 509.96,62.38 510.7,64.92 511.45,66.5 512.19,69.77 512.94,73.48 513.68,79.7 514.43,81.59 515.17,79.58 515.92,74.37 516.66,64.3 517.41,57.09 518.15,57.74 518.9,59.66 519.64,66.58 520.39,69.44 521.13,73.3 521.88,81.09 522.62,80.33 523.37,80.16 524.11,78.82 524.86,74.73 525.6,70.57 526.35,69.09 527.09,67.83 527.84,69.19 528.58,71.73 529.33,75.85 530.07,82.19 530.82,83.55 531.56,87.29 532.31,85.78 533.05,81.34 533.8,76.02 534.54,69.82 535.29,64.15 536.03,62.62 536.78,63.29 537.52,65.9 538.27,69.55 539.01,77 539.76,80.11 540.5,86.47 541.25,92.37 541.99,87.83 542.74,80.78 543.48,76.78 544.23,71.18 544.97,67.32 545.72,63.08 546.46,65.62 547.21,71.02 547.95,77.52 548.7,81.57 549.44,85.15 550.19,87.04 550.93,80.18 551.68,74.32 552.42,67.45 553.17,60.44 553.91,58.44 554.66,63.23 555.4,62.64 556.15,71.69 556.89,82.86 557.64,91.99 558.38,97.19 559.13,100.99 559.87,97.79 560.62,95.67 561.36,91.98 562.11,88.69 562.85,85.05 563.6,80.87 564.34,80.65 565.09,84.11 565.83,88.8 566.58,94.15 567.32,95.24" stroke="#9e9e9e"/>
<polyline points="417.58,45.09 418.32,45.48 419.07,38.42 419.81,30.7 420.56,18.84 421.3,20.32 422.05,26.29 422.79,31.26 423.54,39.19 424.28,46.86 425.03,49.27 425.77,52.17 426.52,49.08 427.26,42.69 428.01,32.52 428.75,25.92 429.5,21.42 430.24,24.19 430.99,29.42 431.73,40.46 432.48,49.32 433.22,60.18 433.97,66.7 434.71,68.49 435.46,67.36 436.2,58.37 436.95,48.56 437.69,46.37 438.44,42.99 439.18,43.3 439.93,43.51 440.67,49.55 441.42,54.16 442.16,59.88 442.91,64.07 443.65,64.93 444.4,61.37 445.14,51.05 445.89,43.55 446.63,35.6 447.38,33.43 448.12,33.49 448.87,41.01 449.61,46.92 450.36,52.05 451.1,55.06 451.85,59.87 452.59,58.72 453.34,58.8 454.08,46.12 454.83,36.36 455.57,32.65 456.32,29.33 457.06,29.96 457.81,35.45 458.55,39.56 459.3,43.35 460.04,50.87 460.79,54.72 461.53,56.21 462.28,50.96 463.02,44.57 463.77,35.81 464.51,28.99 465.26,25.83 466,28.99 466.75,31.95 467.49,36.56 468.24,35.87 468.98,41.33 469.73,42.87 470.47,47.15 471.22,48.98 471.96,46 472.71,42.77 473.45,39.41 474.2,35.13 474.94,30.57 475.69,35.29 476.43,41.7 477.18,50.55 477.92,57.89 478.67,59.24 479.41,59.96 480.16,57.68 480.9,51.95 481.65,47.33 482.39,40.84 483.14,36.24 483.88,37.85 484.63,38.07 485.37,47.85 486.12,55.45 486.86,64.13 487.61,67.05 488.35,65.7 489.1,61.31 489.84,53.77 490.59,44.73 491.33,36.8 492.08,32.33 492.82,29.1 493.57,30.83 494.31,36.01 495.06,43.6 495.8,47.63 496.55,53.89 497.29,54.02 498.04,44.68 498.78,38.71 499.53,26.27 500.27,22.24 501.02,19.53 501.76,26.96 502.51,31.92 503.25,44.22 504,55.95 504.74,60.48 505.49,65.06 506.23,64.56 506.98,60.47 507.72,51.86 508.47,43.39 509.21,34.54 509.96,29.32 510.7,29.77 511.45,32.18 512.19,37.68 512.94,44.95 513.68,48.3 514.43,48.09 515.17,40.92 515.92,29.49 516.66,22.29 517.41,16 518.15,19.89 518.9,23.52 519.64,31.86 520.39,32.07 521.13,35.29 521.88,37.33 522.62,38.35 523.37,40.8 524.11,40.29 524.86,38.96 525.6,28.26 526.35,22.66 527.09,15.89 527.84,19.45 528.58,20.63 529.33,28.38 530.07,31.36 530.82,38.38 531.56,42.28 532.31,44.45 533.05,45.65 533.8,41.96 534.54,34.78 535.29,26.99 536.03,21.39 536.78,20.1 537.52,20.97 538.27,25.65 539.01,35.77 539.76,39.42 540.5,45.51 541.25,46.27 541.99,41.58 542.74,36.09 543.48,30.01 544.23,26.33 544.97,22.5 545.72,23.45 546.46,28.08 547.21,29.99 547.95,35.48 548.7,42.81 549.44,42.62 550.19,44.64 550.93,37.7 551.68,30.97 552.42,25.32 553.17,18.61 553.91,14.72 554.66,16.78 555.4,19.53 556.15,28.19 556.89,38.55 557.64,46.41 558.38,57.27 559.13,59.02 559.87,59.62 560.62,57.99 561.36,52.04 562.11,42.37 562.85,33.93 563.6,33.22 564.34,36.37 565.09,38.07 565.83,49.69 566.58,54.33 567.32,61.87" stroke="#707070"/>
<polyline points="417.58,29.92 418.32,28.34 419.07,24.02 419.81,20.28 420.56,16.49 421.3,18.03 422.05,21.69 422.79,24.58 423.54,28.8 424.28,32.18 425.03,34.27 425.77,33.7 426.52,32.09 427.26,27.04 428.01,22.44 428.75,17.9 429.5,17.25 430.24,20.26 430.99,27.36 431.73,36.05 432.48,45.4 433.22,53.53 433.97,56.6 434.71,56.95 435.46,56.55 436.2,49.81 436.95,41.87 437.69,37.3 438.44,35.23 439.18,36.32 439.93,37.34 440.67,43.79 441.42,46.99 442.16,48.05 442.91,51.03 443.65,50.63 444.4,47.08 445.14,40.82 445.89,32.32 446.63,28.62 447.38,29.99 448.12,31.58 448.87,34.42 449.61,39.23 450.36,42.47 451.1,45.45 451.85,47.24 452.59,47.34 453.34,42 454.08,34.76 454.83,28.59 455.57,25.96 456.32,24.87 457.06,28.14 457.81,30.54 458.55,36.56 459.3,39.09 460.04,43.26 460.79,46.18 461.53,45.09 462.28,40.91 463.02,34.44 463.77,29.19 464.51,25.3 465.26,23.69 466,25.34 466.75,26.77 467.49,29.02 468.24,34.07 468.98,35.24 469.73,36.63 470.47,39.27 471.22,39.91 471.96,37.24 472.71,35.24 473.45,32.13 474.2,31.6 474.94,32.74 475.69,34.34 476.43,39.3 477.18,43.24 477.92,47.44 478.67,50.2 479.41,48.87 480.16,44.76 480.9,41.76 481.65,39.57 482.39,36.28 483.14,34.36 483.88,34.53 484.63,37.1 485.37,42.53 486.12,48.08 486.86,52.1 487.61,52.19 488.35,53.21 489.1,46.89 489.84,40.58 490.59,35.39 491.33,28.56 492.08,26.42 492.82,25.06 493.57,28.46 494.31,32.07 495.06,36.28 495.8,40.61 496.55,43.07 497.29,41.48 498.04,32.8 498.78,26.85 499.53,20.68 500.27,16.48 501.02,17.72 501.76,22.17 502.51,31.42 503.25,41.18 504,50.52 504.74,55.16 505.49,57.81 506.23,53.8 506.98,47.51 507.72,42.78 508.47,35.99 509.21,27.13 509.96,21.99 510.7,25.01 511.45,28.18 512.19,31.29 512.94,37.01 513.68,39.15 514.43,37.58 515.17,29.96 515.92,21.64 516.66,14.03 517.41,12.76 518.15,15.37 518.9,18.02 519.64,20.23 520.39,20.08 521.13,23.13 521.88,25.91 522.62,26.32 523.37,29.19 524.11,28.84 524.86,24.27 525.6,19.09 526.35,14.24 527.09,12.64 527.84,13.94 528.58,17.65 529.33,19.29 530.07,24.23 530.82,28.1 531.56,30.65 532.31,31.67 533.05,29.74 533.8,29.39 534.54,23.65 535.29,20.81 536.03,15.56 536.78,13.97 537.52,17.22 538.27,22.29 539.01,27.25 539.76,31.71 540.5,34.25 541.25,32.63 541.99,31.29 542.74,27.71 543.48,23.03 544.23,20.12 544.97,19.4 545.72,20.85 546.46,23.37 547.21,28.42 547.95,29.73 548.7,33.63 549.44,35.48 550.19,33.09 550.93,28.44 551.68,23.1 552.42,17.33 553.17,14.21 553.91,10.17 554.66,14.38 555.4,21.34 556.15,28.13 556.89,35.24 557.64,44.01 558.38,48.19 559.13,51.82 559.87,50.31 560.62,47.21 561.36,44.86 562.11,36.66 562.85,33.99 563.6,30.62 564.34,33.3 565.09,36.95 565.83,43.42 566.58,45.78 567.32,49.01" stroke="#333333"/>
<polyline points="417.58,70.22 418.32,68.47 419.07,60.99 419.81,55.08 420.56,54.02 421.3,55.88 422.05,58.17 422.79,60.54 423.54,61.49 424.28,62.72 425.03,65.28 425.77,67.14 426.52,65.82 427.26,60.47 428.01,58.13 428.75,57.76 429.5,56.82 430.24,60.61 430.99,64.97 431.73,70.98 432.48,77.76 433.22,82.8 433.97,88.16 434.71,91.47 435.46,90.96 436.2,86.45 436.95,81 437.69,72.08 438.44,68.19 439.18,67.5 439.93,70.6 440.67,72.56 441.42,75.32 442.16,76.7 442.91,76.71 443.65,74.22 444.4,72.08 445.14,69.44 445.89,65.79 446.63,65.8 447.38,64.15 448.12,66.31 448.87,71.46 449.61,72.67 450.36,76.63 451.1,77.37 451.85,77.54 452.59,77.06 453.34,71.35 454.08,66.52 454.83,61.51 455.57,61.53 456.32,60.69 457.06,65.38 457.81,69.06 458.55,73.68 459.3,74.32 460.04,75.36 460.79,72.14 461.53,70.69 462.28,66.83 463.02,63.3 463.77,61.99 464.51,60.52 465.26,60.08 466,64.02 466.75,67.17 467.49,71.57 468.24,75.09 468.98,79.11 469.73,80.67 470.47,80.43 471.22,79.62 471.96,78.8 472.71,75.26 473.45,75.23 474.2,73.74 474.94,73.24 475.69,72.24 476.43,76.36 477.18,80.92 477.92,84.82 478.67,85.72 479.41,87.08 480.16,85.64 480.9,81.21 481.65,79.53 482.39,75.97 483.14,74.07 483.88,74.4 484.63,75.29 485.37,76.22 486.12,80.28 486.86,83.05 487.61,84.78 488.35,83.11 489.1,80.05 489.84,74.29 490.59,69.53 491.33,65.93 492.08,65.51 492.82,66.84 493.57,69.09 494.31,72.88 495.06,75.27 495.8,75.15 496.55,75.56 497.29,73.28 498.04,64.36 498.78,59.51 499.53,56.56 500.27,54.16 501.02,56.59 501.76,60.52 502.51,64.9 503.25,69.56 504,72.05 504.74,72.83 505.49,74 506.23,72.77 506.98,70.68 507.72,72.63 508.47,71.04 509.21,73.3 509.96,79.68 510.7,88.08 511.45,96.47 512.19,104.11 512.94,109.95 513.68,110.28 514.43,105.61 515.17,98.9 515.92,92.12 516.66,90.31 517.41,91.59 518.15,93.74 518.9,99.62 519.64,105.77 520.39,111.06 521.13,117.55 521.88,120.7 522.62,121.45 523.37,121.09 524.11,117.55 524.86,114.55 525.6,110.98 526.35,103.89 527.09,102.21 527.84,103.96 528.58,104 529.33,109.13 530.07,115.71 530.82,119.51 531.56,123.61 532.31,124.03 533.05,125.47 533.8,118.39 534.54,108.35 535.29,99.77 536.03,97.11 536.78,97.72 537.52,101.09 538.27,107.37 539.01,115.25 539.76,121.42 540.5,124.62 541.25,127.14 541.99,125.65 542.74,121.69 543.48,111.62 544.23,105.55 544.97,102.19 545.72,99.01 546.46,101.26 547.21,110.65 547.95,116.73 548.7,123.24 549.44,125.79 550.19,125.63 550.93,120.99 551.68,113.49 552.42,103.83 553.17,97.05 553.91,96.1 554.66,97.67 555.4,101.09 556.15,114.56 556.89,125.71 557.64,135.04 558.38,140.41 559.13,140.3 559.87,136.61 560.62,130.04 561.36,119.61 562.11,111.22 562.85,103.89 563.6,103.69 564.34,107.25 565.09,112.73 565.83,117.88 566.58,126.28 567.32,131.66" stroke="#168a16"/>
</g>
<line x1="496.92" y1="2.6" x2="496.92" y2="150.4" stroke="#9a2aaa" stroke-width="1.2" stroke-dasharray="2,1.4"/>
<line x1="523.74" y1="2.6" x2="523.74" y2="150.4" stroke="#9a2aaa" stroke-width="1.2" stroke-dasharray="2,1.4"/>
<rect x="410.4" y="2.6" width="163.6" height="147.8" fill="none" stroke="#555" stroke-width="1.0"/>
<g stroke="#333" stroke-width="0.8"><line x1="425.4" y1="150.4" x2="425.4" y2="152.6"/><line x1="443.28" y1="150.4" x2="443.28" y2="152.6"/><line x1="461.16" y1="150.4" x2="461.16" y2="152.6"/><line x1="479.04" y1="150.4" x2="479.04" y2="152.6"/><line x1="496.92" y1="150.4" x2="496.92" y2="152.6"/><line x1="514.8" y1="150.4" x2="514.8" y2="152.6"/><line x1="532.68" y1="150.4" x2="532.68" y2="152.6"/><line x1="550.56" y1="150.4" x2="550.56" y2="152.6"/><line x1="568.44" y1="150.4" x2="568.44" y2="152.6"/><line x1="408.2" y1="133.9" x2="410.4" y2="133.9"/><line x1="408.2" y1="112.3" x2="410.4" y2="112.3"/><line x1="408.2" y1="90.7" x2="410.4" y2="90.7"/><line x1="408.2" y1="69.1" x2="410.4" y2="69.1"/><line x1="408.2" y1="47.5" x2="410.4" y2="47.5"/><line x1="408.2" y1="25.9" x2="410.4" y2="25.9"/><line x1="408.2" y1="4.3" x2="410.4" y2="4.3"/></g>
<text x="425.4" y="159" font-size="6.85" text-anchor="middle">2004</text>
<text x="443.28" y="159" font-size="6.85" text-anchor="middle">2006</text>
<text x="461.16" y="159" font-size="6.85" text-anchor="middle">2008</text>
<text x="479.04" y="159" font-size="6.85" text-anchor="middle">2010</text>
<text x="496.92" y="159" font-size="6.85" text-anchor="middle">2012</text>
<text x="514.8" y="159" font-size="6.85" text-anchor="middle">2014</text>
<text x="532.68" y="159" font-size="6.85" text-anchor="middle">2016</text>
<text x="550.56" y="159" font-size="6.85" text-anchor="middle">2018</text>
<text x="568.44" y="159" font-size="6.85" text-anchor="middle">2020</text>
<text x="406.8" y="136.35" font-size="6.85" text-anchor="end">0.25</text>
<text x="406.8" y="114.75" font-size="6.85" text-anchor="end">0.30</text>
<text x="406.8" y="93.15" font-size="6.85" text-anchor="end">0.35</text>
<text x="406.8" y="71.55" font-size="6.85" text-anchor="end">0.40</text>
<text x="406.8" y="49.95" font-size="6.85" text-anchor="end">0.45</text>
<text x="406.8" y="28.35" font-size="6.85" text-anchor="end">0.50</text>
<text x="406.8" y="6.75" font-size="6.85" text-anchor="end">0.55</text>
<text x="492.2" y="167.6" font-size="7" text-anchor="middle">Year</text>
<text transform="translate(389.6,76.5) rotate(-90)" x="0" y="0" font-size="7.8" text-anchor="middle">Surface Reflectance</text>
<rect x="416.7" y="7.8" width="19.5" height="13.7" rx="1.5" fill="#fff" fill-opacity="0.85" stroke="#9a9a9a" stroke-width="0.8"/>
<text x="426.8" y="17.9" font-size="10.6" font-weight="bold" text-anchor="middle" letter-spacing="0.9">(c)</text>
<defs><clipPath id="cce"><rect x="213.5" y="180.4" width="163.8" height="147.8"/></clipPath></defs>
<g stroke="#c4c4c4" stroke-width="0.7" stroke-dasharray="1,1.2"><line x1="229.7" y1="180.4" x2="229.7" y2="328.2"/><line x1="247.28" y1="180.4" x2="247.28" y2="328.2"/><line x1="264.86" y1="180.4" x2="264.86" y2="328.2"/><line x1="282.44" y1="180.4" x2="282.44" y2="328.2"/><line x1="300.02" y1="180.4" x2="300.02" y2="328.2"/><line x1="317.6" y1="180.4" x2="317.6" y2="328.2"/><line x1="335.18" y1="180.4" x2="335.18" y2="328.2"/><line x1="352.76" y1="180.4" x2="352.76" y2="328.2"/><line x1="370.34" y1="180.4" x2="370.34" y2="328.2"/><line x1="213.5" y1="313.61" x2="377.3" y2="313.61"/><line x1="213.5" y1="296.83" x2="377.3" y2="296.83"/><line x1="213.5" y1="280.06" x2="377.3" y2="280.06"/><line x1="213.5" y1="263.29" x2="377.3" y2="263.29"/><line x1="213.5" y1="246.52" x2="377.3" y2="246.52"/><line x1="213.5" y1="229.75" x2="377.3" y2="229.75"/><line x1="213.5" y1="212.97" x2="377.3" y2="212.97"/><line x1="213.5" y1="196.2" x2="377.3" y2="196.2"/></g>
<g clip-path="url(#cce)" fill="none" stroke-width="0.85" stroke-linejoin="round">
<polyline points="220.91,234.82 221.29,237.23 221.67,240.77 222.06,252.43 222.44,236 222.82,227.72 223.2,224.1 223.59,231.88 223.97,211.17 224.35,212.11 224.73,226.79 225.11,226.84 225.5,220.28 225.88,229.66 226.26,227.93 226.64,222.91 227.02,224.84 227.41,238.04 227.79,239.05 228.17,240.93 228.55,238.27 228.94,238.22 229.32,241.46 229.7,233.28 230.08,237.25 230.46,236.14 230.85,247.76 231.23,241.98 231.61,235.48 231.99,226.66 232.38,233.46 232.76,216.19 233.14,225.16 233.52,224.58 233.9,226.49 234.29,225.77 234.67,225.33 235.05,238.18 235.43,227.25 235.81,246.39 236.2,240.99 236.58,248.84 236.96,251.06 237.34,247.27 237.73,251.47 238.11,242.24 238.49,255.92 238.87,247.96 239.25,245.92 239.64,233.74 240.02,235 240.4,238.98 240.78,230.59 241.17,234.59 241.55,244.53 241.93,236.66 242.31,230.75 242.69,242.85 243.08,229.68 243.46,238.31 243.84,245.83 244.22,239.5 244.6,254.18 244.99,249.27 245.37,252.58 245.75,242.98 246.13,253.78 246.52,257.77 246.9,245.35 247.28,250.27 247.66,251.04 248.04,248.84 248.43,236.16 248.81,240.19 249.19,244.53 249.57,219.01 249.96,233.17 250.34,222.69 250.72,228.09 251.1,226.09 251.48,241.57 251.87,240.26 252.25,233.11 252.63,239.2 253.01,239.44 253.39,234.03 253.78,258.13 254.16,246.14 254.54,234.64 254.92,248.87 255.31,245.94 255.69,243.82 256.07,243.77 256.45,242.56 256.83,249.07 257.22,238.23 257.6,241.92 257.98,224.69 258.36,237.11 258.75,229.27 259.13,231.02 259.51,221.55 259.89,228.48 260.27,225.19 260.66,234.87 261.04,235.15 261.42,240.77 261.8,237.58 262.18,240.41 262.57,248.13 262.95,250.8 263.33,242.83 263.71,246.2 264.1,250.48 264.48,252.09 264.86,252.84 265.24,243.5 265.62,245.85 266.01,244.2 266.39,241.12 266.77,237.92 267.15,234.45 267.54,229.89 267.92,240.95 268.3,230.33 268.68,236.81 269.06,231.99 269.45,222.41 269.83,245.33 270.21,243.22 270.59,240.31 270.97,254.6 271.36,225.44 271.74,247.76 272.12,234.38 272.5,247.05 272.89,239.24 273.27,241.92 273.65,249.03 274.03,242.74 274.41,249.25 274.8,246.46 275.18,231.54 275.56,245.62 275.94,244.37 276.33,219.84 276.71,238.74 277.09,233.78 277.47,224.89 277.85,239.54 278.24,240.69 278.62,225.52 279,238.95 279.38,238.17 279.76,243.34 280.15,238.69 280.53,253.92 280.91,243 281.29,238.04 281.68,238.71 282.06,248.66 282.44,240.71 282.82,230.04 283.2,242.66 283.59,237.85 283.97,243.55 284.35,251.57 284.73,233.85 285.12,244.34 285.5,242 285.88,236.65 286.26,237.24 286.64,238.35 287.03,230.75 287.41,238.25 287.79,240.03 288.17,248.82 288.55,236.8 288.94,252.76 289.32,260.59 289.7,251.83 290.08,242.4 290.47,245.24 290.85,239.18 291.23,244.62 291.61,243.8 291.99,242.52 292.38,247.11 292.76,243.76 293.14,241.61 293.52,235.36 293.91,241.27 294.29,236.8 294.67,231.68 295.05,234.17 295.43,235.97 295.82,236.19 296.2,244.06 296.58,246.04 296.96,243.58 297.34,233.14 297.73,235.52 298.11,240.12 298.49,238.78 298.87,238.37 299.26,260 299.64,247.96 300.02,238.23 300.4,230.94 300.78,239.89 301.17,227.46 301.55,228.96 301.93,233.5 302.31,239.38 302.7,237.39 303.08,229.82 303.46,227.61 303.84,229.53 304.22,225.8 304.61,227.51 304.99,233.03 305.37,232.77 305.75,236.35 306.13,253.71 306.52,252.27 306.9,243.96 307.28,242.91 307.66,248.83 308.05,252.27 308.43,249.02 308.81,247 309.19,248.15 309.57,261.56 309.96,244.81 310.34,240.61 310.72,243.33 311.1,228.02 311.49,251.25 311.87,253.1 312.25,217.98 312.63,247.41 313.01,257.9 313.4,246.72 313.78,239.34 314.16,252.06 314.54,252.73 314.92,247.62 315.31,242.23 315.69,252.56 316.07,257.55 316.45,264.1 316.84,283.42 317.22,243.4 317.6,269.31 317.98,268.05 318.36,262.08 318.75,253.2 319.13,252.17 319.51,256.09 319.89,256.17 320.28,242.63 320.66,247.76 321.04,241.46 321.42,252.09 321.8,243.69 322.19,258.49 322.57,241.07 322.95,260.06 323.33,262.53 323.71,260.06 324.1,267.02 324.48,272.35 324.86,267.37 325.24,276.32 325.63,293.48 326.01,277.79 326.39,266.99 326.77,276.2 327.15,280.74 327.54,282.13 327.92,263.37 328.3,270.3 328.68,257.28 329.07,261.57 329.45,255.3 329.83,254.29 330.21,242.35 330.59,256.33 330.98,265.75 331.36,273.8 331.74,254.32 332.12,262.08 332.5,255.66 332.89,278.41 333.27,271.08 333.65,277.28 334.03,269.82 334.42,276.14 334.8,264.79 335.18,276.34 335.56,273.09 335.94,273.06 336.33,262.05 336.71,253.94 337.09,253.69 337.47,257.86 337.86,257.88 338.24,254.93 338.62,246.73 339,251.57 339.38,250.41 339.77,243.62 340.15,250.55 340.53,255.3 340.91,263.52 341.29,264.98 341.68,269.05 342.06,269.86 342.44,274.14 342.82,273.51 343.21,280.09 343.59,267.37 343.97,272.7 344.35,271.29 344.73,264.38 345.12,274 345.5,270.83 345.88,268.85 346.26,260.31 346.65,248.47 347.03,249.02 347.41,238.78 347.79,259.06 348.17,247.87 348.56,261.5 348.94,264.41 349.32,267.83 349.7,255.09 350.08,266.62 350.47,262.53 350.85,320.32 351.23,272.8 351.61,275.29 352,277.37 352.38,280.44 352.76,273.98 353.14,276.52 353.52,273.37 353.91,268.76 354.29,267.56 354.67,268.48 355.05,258.49 355.44,237.39 355.82,245.62 356.2,252.3 356.58,247.58 356.96,240.89 357.35,237.79 357.73,266.51 358.11,269.41 358.49,278 358.87,272.92 359.26,280.09 359.64,270.67 360.02,277.82 360.4,288.79 360.79,271.16 361.17,291.15 361.55,283.9 361.93,278.67 362.31,287.2 362.7,275.43 363.08,269.88 363.46,268.31 363.84,258.24 364.23,260.84 364.61,261.86 364.99,250.91 365.37,260.2 365.75,254.8 366.14,262.94 366.52,258.02 366.9,263.73 367.28,275.73 367.66,267.78 368.05,276.16 368.43,263.65 368.81,280.82 369.19,272.52 369.58,300.19 369.96,281.76" stroke="#168a16"/>
<polyline points="220.91,239.38 221.29,241.85 221.67,243.89 222.06,260.55 222.44,239.67 222.82,257.3 223.2,233.24 223.59,233.75 223.97,230.64 224.35,229.78 224.73,233.54 225.11,240.18 225.5,239.55 225.88,227.65 226.26,244.98 226.64,244.56 227.02,250.56 227.41,251.37 227.79,252.01 228.17,249.77 228.55,255.34 228.94,256.81 229.32,259.21 229.7,253.84 230.08,263.57 230.46,251.8 230.85,240.56 231.23,253.61 231.61,245.91 231.99,222.5 232.38,248.65 232.76,251.81 233.14,242.13 233.52,225.48 233.9,224.54 234.29,250.17 234.67,239.43 235.05,246.69 235.43,254.6 235.81,268.39 236.2,250.24 236.58,267.69 236.96,262.21 237.34,266.25 237.73,290.13 238.11,260.52 238.49,277.52 238.87,269.87 239.25,258.48 239.64,273.58 240.02,263.88 240.4,256.43 240.78,267.3 241.17,262.16 241.55,263.88 241.93,248.22 242.31,254.34 242.69,243.67 243.08,250.34 243.46,247.9 243.84,253.93 244.22,249.11 244.6,256.85 244.99,264.76 245.37,250.12 245.75,252.79 246.13,244.22 246.52,262.63 246.9,266.16 247.28,272.42 247.66,289.41 248.04,269.15 248.43,253.99 248.81,261.89 249.19,272.18 249.57,246.32 249.96,253.27 250.34,250.16 250.72,249.88 251.1,247.57 251.48,243.4 251.87,260.38 252.25,250.24 252.63,253.55 253.01,242.82 253.39,260.35 253.78,242.13 254.16,251.13 254.54,244.86 254.92,263.03 255.31,252.55 255.69,256.13 256.07,269.72 256.45,259.77 256.83,259.74 257.22,261.6 257.6,257.89 257.98,260.49 258.36,251.07 258.75,243.24 259.13,250.02 259.51,255.01 259.89,235.64 260.27,246.42 260.66,244.17 261.04,247.11 261.42,250.63 261.8,243.65 262.18,253.54 262.57,250.95 262.95,263.26 263.33,265.95 263.71,257.73 264.1,241.43 264.48,254.51 264.86,241.44 265.24,251.57 265.62,250.15 266.01,255.9 266.39,249.55 266.77,233.86 267.15,236.12 267.54,247.57 267.92,244.98 268.3,230.82 268.68,244.34 269.06,234.38 269.45,249.25 269.83,239.95 270.21,235.9 270.59,243.97 270.97,251.49 271.36,255.41 271.74,260.03 272.12,262.15 272.5,255.32 272.89,256.87 273.27,262.99 273.65,275.1 274.03,268.64 274.41,260.85 274.8,260.34 275.18,268.02 275.56,250.34 275.94,233.4 276.33,259.35 276.71,248.14 277.09,235.71 277.47,250.61 277.85,250.86 278.24,247.25 278.62,245.26 279,253.66 279.38,244.73 279.76,267.44 280.15,249.96 280.53,253.4 280.91,258.44 281.29,255.32 281.68,258.44 282.06,249.26 282.44,262.38 282.82,258.72 283.2,267.69 283.59,264.46 283.97,256.44 284.35,264.58 284.73,257.85 285.12,260.1 285.5,253.01 285.88,247.95 286.26,241.77 286.64,263.34 287.03,251.1 287.41,244.12 287.79,241.44 288.17,242.53 288.55,264.87 288.94,259.44 289.32,252.79 289.7,251.16 290.08,256.91 290.47,257.65 290.85,258.14 291.23,265.42 291.61,257.64 291.99,276.71 292.38,257.46 292.76,243.73 293.14,270.66 293.52,249.52 293.91,232.35 294.29,236.8 294.67,231.65 295.05,241.08 295.43,251.36 295.82,247.44 296.2,233.97 296.58,260.68 296.96,256.36 297.34,264.32 297.73,257.96 298.11,259.33 298.49,253.87 298.87,265.77 299.26,248.08 299.64,256.44 300.02,264.48 300.4,267.07 300.78,268.62 301.17,253.72 301.55,236.58 301.93,248.84 302.31,251.82 302.7,241.74 303.08,242.95 303.46,244.58 303.84,251.71 304.22,238.7 304.61,228.52 304.99,232.18 305.37,236.19 305.75,244.42 306.13,245.16 306.52,243.86 306.9,254.23 307.28,253.93 307.66,260.68 308.05,250.53 308.43,266.26 308.81,254.2 309.19,251.9 309.57,250.27 309.96,248.84 310.34,254.8 310.72,252.68 311.1,248.85 311.49,246.25 311.87,250.06 312.25,244.06 312.63,245.32 313.01,248.06 313.4,239.29 313.78,248.89 314.16,243.15 314.54,236.05 314.92,236.51 315.31,250.88 315.69,245.4 316.07,252.77 316.45,238.29 316.84,244.7 317.22,249.03 317.6,258.25 317.98,257.83 318.36,249.96 318.75,251.61 319.13,250.13 319.51,239.95 319.89,251.28 320.28,254.23 320.66,245 321.04,244.95 321.42,236.84 321.8,243.14 322.19,239.13 322.57,254.1 322.95,230.01 323.33,240.02 323.71,251.54 324.1,244.97 324.48,240.23 324.86,244.89 325.24,253.21 325.63,248.94 326.01,247.37 326.39,262.73 326.77,263.46 327.15,255.48 327.54,241.47 327.92,235.16 328.3,242.34 328.68,229.52 329.07,231 329.45,237.25 329.83,241.31 330.21,240.41 330.59,235.42 330.98,226.42 331.36,231.81 331.74,249.24 332.12,250.39 332.5,237.06 332.89,243.47 333.27,253.67 333.65,243.1 334.03,239.17 334.42,244.2 334.8,249.71 335.18,240.4 335.56,252.23 335.94,252.05 336.33,252.21 336.71,228.64 337.09,224.15 337.47,237.56 337.86,230.57 338.24,229.91 338.62,225.35 339,223.29 339.38,227.56 339.77,234.31 340.15,238.95 340.53,244.54 340.91,258.51 341.29,242.07 341.68,249.81 342.06,245.52 342.44,248.37 342.82,256.68 343.21,253.76 343.59,247.43 343.97,249.08 344.35,255.97 344.73,253.43 345.12,241.49 345.5,241.5 345.88,238.41 346.26,239.46 346.65,230.66 347.03,233.88 347.41,214.97 347.79,237.05 348.17,239.21 348.56,222.69 348.94,236.83 349.32,243.78 349.7,236.76 350.08,259.21 350.47,240.85 350.85,245.98 351.23,245.85 351.61,255.14 352,240.38 352.38,248.21 352.76,250.51 353.14,246.71 353.52,253.85 353.91,246.32 354.29,253.81 354.67,248.07 355.05,235.07 355.44,234.07 355.82,227.73 356.2,237.14 356.58,232.9 356.96,237.79 357.35,232.21 357.73,230.38 358.11,230.85 358.49,237.49 358.87,250.72 359.26,246.46 359.64,258.63 360.02,267.72 360.4,254.29 360.79,256.33 361.17,252.07 361.55,251.29 361.93,265.48 362.31,261.33 362.7,252.35 363.08,249.08 363.46,243.79 363.84,253.77 364.23,243.67 364.61,235.36 364.99,225.12 365.37,248.22 365.75,227.74 366.14,243.36 366.52,254.16 366.9,236.48 367.28,257.31 367.66,261.27 368.05,250.43 368.43,250.8 368.81,260.09 369.19,267.32 369.58,273.59 369.96,261.81" stroke="#9e9e9e"/>
<polyline points="220.91,229.96 221.29,237.4 221.67,248.51 222.06,241.29 222.44,241.86 222.82,239.84 223.2,232.1 223.59,244.13 223.97,225.87 224.35,240.07 224.73,232.51 225.11,224.65 225.5,226.99 225.88,238.18 226.26,221.69 226.64,234.03 227.02,245.94 227.41,240.78 227.79,249.27 228.17,241.68 228.55,256.1 228.94,243.44 229.32,260.25 229.7,238.76 230.08,244.04 230.46,234.82 230.85,248.54 231.23,257 231.61,249.82 231.99,239.71 232.38,221.83 232.76,230.79 233.14,224.41 233.52,240.11 233.9,237.67 234.29,237.19 234.67,227.9 235.05,243.17 235.43,244.11 235.81,233.23 236.2,254.9 236.58,251.74 236.96,264.02 237.34,257.79 237.73,251.1 238.11,248.71 238.49,267.34 238.87,274.67 239.25,250.51 239.64,240.22 240.02,255.47 240.4,246.03 240.78,245.54 241.17,259.65 241.55,261.83 241.93,241.51 242.31,236.91 242.69,251.77 243.08,243.56 243.46,248.02 243.84,250.66 244.22,254.73 244.6,238.36 244.99,248.73 245.37,252.22 245.75,255.55 246.13,250.22 246.52,257.48 246.9,252.76 247.28,259.29 247.66,250.19 248.04,253.73 248.43,245.65 248.81,259.51 249.19,251.86 249.57,253.21 249.96,230.79 250.34,245.54 250.72,240.57 251.1,252.39 251.48,246.82 251.87,253.02 252.25,242.29 252.63,250.04 253.01,233.25 253.39,252.89 253.78,240.79 254.16,250.95 254.54,247.56 254.92,259.24 255.31,253.49 255.69,254.48 256.07,258.77 256.45,247.94 256.83,261.68 257.22,250.16 257.6,248.38 257.98,244.12 258.36,251.24 258.75,236.01 259.13,246.08 259.51,242.86 259.89,245.03 260.27,240.87 260.66,235.79 261.04,218.15 261.42,260.5 261.8,235.84 262.18,237.82 262.57,235.27 262.95,245.89 263.33,245.76 263.71,237.02 264.1,250.09 264.48,249.66 264.86,250.65 265.24,246.43 265.62,235.29 266.01,253.25 266.39,236.08 266.77,259.83 267.15,237.32 267.54,242.14 267.92,228.16 268.3,230.65 268.68,230.33 269.06,232.02 269.45,234.55 269.83,253.39 270.21,238.13 270.59,252.61 270.97,237.3 271.36,252.5 271.74,249.86 272.12,255.58 272.5,252.86 272.89,252.92 273.27,250.78 273.65,263.44 274.03,242 274.41,260.23 274.8,252.07 275.18,269.01 275.56,245.12 275.94,238.37 276.33,235.09 276.71,238.89 277.09,238.29 277.47,246.36 277.85,244.52 278.24,243.5 278.62,241.77 279,251.96 279.38,248.09 279.76,242.97 280.15,247.17 280.53,250.74 280.91,256.98 281.29,249.7 281.68,251.02 282.06,241.56 282.44,252.16 282.82,244.42 283.2,260.46 283.59,236.42 283.97,258.32 284.35,247.46 284.73,248.22 285.12,248.7 285.5,245.77 285.88,246.75 286.26,241.71 286.64,240.56 287.03,234.62 287.41,234.81 287.79,232.16 288.17,243.07 288.55,254.08 288.94,232.6 289.32,247.11 289.7,271.19 290.08,247.82 290.47,255.09 290.85,259.45 291.23,258.31 291.61,252.53 291.99,257.57 292.38,248.06 292.76,249.05 293.14,247.01 293.52,240.29 293.91,239.33 294.29,228.45 294.67,235.72 295.05,245.76 295.43,238.62 295.82,226.9 296.2,228.03 296.58,248.17 296.96,239.3 297.34,249.88 297.73,250.62 298.11,262.05 298.49,264.49 298.87,256.01 299.26,252.82 299.64,251.19 300.02,260.8 300.4,255.04 300.78,250.7 301.17,250.6 301.55,267.51 301.93,252.13 302.31,241.1 302.7,235.34 303.08,244.58 303.46,228.98 303.84,257.81 304.22,226.77 304.61,242.12 304.99,238.22 305.37,247.01 305.75,251.09 306.13,247.04 306.52,246.71 306.9,257.7 307.28,245.35 307.66,255.87 308.05,252.9 308.43,259.12 308.81,258.31 309.19,252.79 309.57,261.23 309.96,244.34 310.34,256.84 310.72,242.25 311.1,251.64 311.49,243.01 311.87,245.13 312.25,229.87 312.63,225.74 313.01,241.63 313.4,235.81 313.78,238.66 314.16,236.67 314.54,236.45 314.92,232.98 315.31,248.08 315.69,264.21 316.07,247.55 316.45,256.89 316.84,255.99 317.22,245.93 317.6,243.15 317.98,252.75 318.36,242.49 318.75,246.35 319.13,241.22 319.51,245.62 319.89,232.25 320.28,244.48 320.66,237.8 321.04,230.16 321.42,243.62 321.8,233.79 322.19,234.02 322.57,232.81 322.95,228.12 323.33,258.98 323.71,238.9 324.1,246.08 324.48,242.57 324.86,248.25 325.24,259.84 325.63,260.06 326.01,263.59 326.39,246.64 326.77,259.34 327.15,250.78 327.54,252.87 327.92,264.03 328.3,248.94 328.68,245.49 329.07,231.33 329.45,242.03 329.83,247.59 330.21,242.76 330.59,232.66 330.98,235.1 331.36,236.82 331.74,237.73 332.12,251 332.5,240.66 332.89,247.38 333.27,267.75 333.65,258.79 334.03,246.08 334.42,260.72 334.8,259.67 335.18,256.07 335.56,253.99 335.94,253.43 336.33,246.66 336.71,253.73 337.09,256.2 337.47,242.69 337.86,240.58 338.24,230.79 338.62,221.15 339,232.2 339.38,229.45 339.77,224.17 340.15,232.33 340.53,235.45 340.91,249.99 341.29,248.95 341.68,254.61 342.06,254.31 342.44,246.24 342.82,250.64 343.21,256.55 343.59,273.06 343.97,252.2 344.35,251.27 344.73,262.08 345.12,250.5 345.5,250.57 345.88,240.88 346.26,258.29 346.65,250.08 347.03,228.86 347.41,245.01 347.79,242.59 348.17,240.1 348.56,235.86 348.94,229.53 349.32,242.06 349.7,237.22 350.08,243.7 350.47,253.98 350.85,240.41 351.23,247.06 351.61,259.19 352,258.92 352.38,265.52 352.76,270.31 353.14,257.02 353.52,245.9 353.91,273.08 354.29,253.2 354.67,230.03 355.05,230.37 355.44,246.5 355.82,242.48 356.2,225.54 356.58,242.98 356.96,235.63 357.35,242.54 357.73,234.75 358.11,239.19 358.49,230.4 358.87,254.96 359.26,263.03 359.64,256.75 360.02,254.8 360.4,261.35 360.79,241.46 361.17,264.4 361.55,261.78 361.93,251.94 362.31,243.95 362.7,253.14 363.08,246.74 363.46,258.45 363.84,253.62 364.23,241.48 364.61,235.92 364.99,236.15 365.37,235.7 365.75,233.65 366.14,241.11 366.52,245.18 366.9,247.14 367.28,257.94 367.66,256.48 368.05,260.37 368.43,252.58 368.81,240.83 369.19,255.02 369.58,246.18 369.96,267.66" stroke="#cdcdcd"/>
<polyline points="220.91,231.07 221.29,229.9 221.67,230.49 222.06,226.34 222.44,212.51 222.82,228.13 223.2,209.28 223.59,204.12 223.97,211.76 224.35,213.36 224.73,206.77 225.11,203.41 225.5,199.38 225.88,209.08 226.26,207.16 226.64,221.89 227.02,226.74 227.41,233.88 227.79,232.08 228.17,228.4 228.55,225.51 228.94,234.41 229.32,220.64 229.7,224.64 230.08,225.82 230.46,224.12 230.85,204.67 231.23,213.23 231.61,217.27 231.99,215.58 232.38,197.24 232.76,211 233.14,200.23 233.52,199.76 233.9,224.45 234.29,205.26 234.67,218.43 235.05,227.93 235.43,229.03 235.81,226.56 236.2,231.42 236.58,234.09 236.96,243.05 237.34,231.86 237.73,230.34 238.11,290.13 238.49,230.54 238.87,222.7 239.25,218.61 239.64,223.87 240.02,219.67 240.4,218.56 240.78,216.28 241.17,212.55 241.55,226.99 241.93,218.38 242.31,213.89 242.69,230.54 243.08,227.98 243.46,211.54 243.84,229.58 244.22,228.15 244.6,225.17 244.99,232.16 245.37,235.96 245.75,234.88 246.13,234.79 246.52,235.55 246.9,230.23 247.28,220.37 247.66,226.28 248.04,216.66 248.43,219.88 248.81,217.18 249.19,216.72 249.57,220.41 249.96,214.83 250.34,214.83 250.72,223.23 251.1,212.39 251.48,214.33 251.87,216.94 252.25,224.21 252.63,238.63 253.01,215.83 253.39,227 253.78,241.39 254.16,225.64 254.54,234.67 254.92,226.67 255.31,231.22 255.69,222.87 256.07,226.79 256.45,224.49 256.83,222.88 257.22,213.78 257.6,226.47 257.98,209.16 258.36,210.09 258.75,216.11 259.13,211.91 259.51,214.41 259.89,211.83 260.27,207.58 260.66,218.95 261.04,212.35 261.42,213.39 261.8,217.55 262.18,214.19 262.57,226.04 262.95,223 263.33,213.27 263.71,228.51 264.1,229.31 264.48,227.48 264.86,222.33 265.24,227.42 265.62,222.59 266.01,228.92 266.39,221.89 266.77,219.15 267.15,217.83 267.54,211.9 267.92,204.1 268.3,210.41 268.68,216.67 269.06,208.51 269.45,210.87 269.83,222.75 270.21,216.1 270.59,226.29 270.97,226.34 271.36,229.38 271.74,221.9 272.12,233.15 272.5,230.7 272.89,227.57 273.27,221.83 273.65,303.54 274.03,231.71 274.41,216.68 274.8,220.18 275.18,212.9 275.56,212.03 275.94,220.14 276.33,215.6 276.71,216.98 277.09,212.81 277.47,205.43 277.85,215.88 278.24,221.4 278.62,203.56 279,226.53 279.38,222.25 279.76,224.01 280.15,233.06 280.53,221.79 280.91,220.95 281.29,228.22 281.68,227.27 282.06,228.09 282.44,236.86 282.82,223.58 283.2,231.16 283.59,227.92 283.97,218.25 284.35,213.68 284.73,223.35 285.12,210.38 285.5,206.12 285.88,215.7 286.26,217.77 286.64,217.32 287.03,222.78 287.41,227.76 287.79,221.24 288.17,223.4 288.55,233.26 288.94,234.89 289.32,237.96 289.7,239.6 290.08,241.71 290.47,244.68 290.85,228.98 291.23,234.56 291.61,229.38 291.99,215.86 292.38,226.21 292.76,216.43 293.14,224.91 293.52,217.91 293.91,208 294.29,212.6 294.67,219.38 295.05,220.48 295.43,210.35 295.82,219.64 296.2,212.06 296.58,216.86 296.96,222.89 297.34,223.73 297.73,220.92 298.11,226.9 298.49,233.9 298.87,226.71 299.26,230.61 299.64,228.92 300.02,222.5 300.4,221.77 300.78,215.07 301.17,219.48 301.55,218.31 301.93,215.04 302.31,208.6 302.7,214.02 303.08,210.43 303.46,213.12 303.84,213.23 304.22,210.84 304.61,197.17 304.99,215.96 305.37,214.61 305.75,218.12 306.13,222.17 306.52,223.13 306.9,213.47 307.28,227.78 307.66,217.27 308.05,222.77 308.43,231 308.81,228.42 309.19,225.58 309.57,227.24 309.96,211.84 310.34,213.98 310.72,211.26 311.1,218.71 311.49,208.63 311.87,213.8 312.25,196.17 312.63,211.48 313.01,210.31 313.4,211.05 313.78,218.19 314.16,219.84 314.54,222.07 314.92,216.86 315.31,228.05 315.69,226.19 316.07,224.31 316.45,229.08 316.84,234.46 317.22,232.42 317.6,226.11 317.98,227.03 318.36,212.94 318.75,215.55 319.13,212.84 319.51,215.88 319.89,204.56 320.28,208.01 320.66,210.49 321.04,208.43 321.42,191.1 321.8,209.62 322.19,212.59 322.57,202.54 322.95,207.01 323.33,215.14 323.71,207.41 324.1,225.9 324.48,221.56 324.86,229.34 325.24,212.14 325.63,219.72 326.01,203.95 326.39,215 326.77,212.98 327.15,220.14 327.54,218.01 327.92,211.53 328.3,201.15 328.68,210.67 329.07,217.13 329.45,197.42 329.83,196.93 330.21,208.25 330.59,201.59 330.98,199.49 331.36,201.53 331.74,220.22 332.12,213.39 332.5,220.92 332.89,213.07 333.27,220.02 333.65,228.91 334.03,221.75 334.42,218.65 334.8,230.18 335.18,227.21 335.56,220.8 335.94,215.71 336.33,214.14 336.71,218.46 337.09,214.01 337.47,202.59 337.86,198.12 338.24,204.73 338.62,198.3 339,188.83 339.38,202.6 339.77,206.11 340.15,210.35 340.53,206.43 340.91,210.99 341.29,213.87 341.68,220.24 342.06,217.73 342.44,219.13 342.82,223.04 343.21,215.12 343.59,230.08 343.97,214.88 344.35,217.41 344.73,208.84 345.12,199.49 345.5,207.35 345.88,205.92 346.26,202.51 346.65,192.41 347.03,190.44 347.41,198.35 347.79,196.17 348.17,190.84 348.56,200.5 348.94,215.34 349.32,214.42 349.7,215.7 350.08,213.62 350.47,222.05 350.85,212.68 351.23,225.2 351.61,213.72 352,226.67 352.38,213.68 352.76,218.64 353.14,208.77 353.52,202.58 353.91,200.58 354.29,201.56 354.67,209.21 355.05,207.08 355.44,219.31 355.82,190.57 356.2,191.61 356.58,193.91 356.96,208.67 357.35,188.33 357.73,212.31 358.11,207.13 358.49,226.12 358.87,224.12 359.26,216.7 359.64,220.73 360.02,235.28 360.4,230.22 360.79,222.94 361.17,239.94 361.55,223.11 361.93,235.28 362.31,220.24 362.7,223.38 363.08,213.77 363.46,220.74 363.84,218.08 364.23,216.86 364.61,219.78 364.99,215.65 365.37,220.68 365.75,219.24 366.14,213.66 366.52,222.04 366.9,216.38 367.28,221.44 367.66,223.57 368.05,238.04 368.43,231.03 368.81,226.68 369.19,231.06 369.58,229.61 369.96,227.86" stroke="#707070"/>
<polyline points="220.91,215.37 221.29,203 221.67,238.39 222.06,201.08 222.44,218.88 222.82,225.22 223.2,223 223.59,223.76 223.97,212.83 224.35,200.7 224.73,203.55 225.11,203.75 225.5,230.13 225.88,230.53 226.26,199.07 226.64,207.65 227.02,196.96 227.41,209.63 227.79,235.55 228.17,212.28 228.55,220.33 228.94,225.18 229.32,236.04 229.7,226.22 230.08,226.18 230.46,212.84 230.85,218.55 231.23,200.17 231.61,222.85 231.99,207.1 232.38,204.87 232.76,218.18 233.14,220.96 233.52,197.6 233.9,204.08 234.29,213.41 234.67,210.19 235.05,224.95 235.43,218.71 235.81,231.36 236.2,226.21 236.58,220.55 236.96,237.01 237.34,225.62 237.73,246.29 238.11,237.98 238.49,248.92 238.87,234.48 239.25,231.5 239.64,233.29 240.02,232.85 240.4,214.45 240.78,212.56 241.17,240.12 241.55,213.97 241.93,244.89 242.31,234.35 242.69,228.53 243.08,225.78 243.46,238.61 243.84,235.57 244.22,227.49 244.6,236.25 244.99,236.16 245.37,222.54 245.75,220.02 246.13,230.9 246.52,230.18 246.9,230.52 247.28,234.84 247.66,234.83 248.04,239.66 248.43,220.6 248.81,227.43 249.19,227 249.57,222.48 249.96,218.22 250.34,208.18 250.72,226.18 251.1,227.62 251.48,221.46 251.87,233.18 252.25,211.12 252.63,215.63 253.01,218.99 253.39,228.61 253.78,220.24 254.16,217.65 254.54,224.16 254.92,232.95 255.31,248.23 255.69,219.86 256.07,233.24 256.45,237.5 256.83,217.56 257.22,221.93 257.6,239.13 257.98,223.34 258.36,223.71 258.75,209.01 259.13,239.23 259.51,222.7 259.89,220.17 260.27,203.95 260.66,231.64 261.04,252.69 261.42,237.32 261.8,221.09 262.18,216.69 262.57,208.17 262.95,223.7 263.33,237.59 263.71,220.14 264.1,230.04 264.48,231.91 264.86,228.8 265.24,214.01 265.62,235.64 266.01,234.95 266.39,222.55 266.77,220.47 267.15,226.65 267.54,225.87 267.92,211.4 268.3,200.69 268.68,207.55 269.06,208.43 269.45,203.38 269.83,239.4 270.21,235.74 270.59,228.72 270.97,235.61 271.36,234.93 271.74,224.87 272.12,240.43 272.5,232.04 272.89,249.45 273.27,237.82 273.65,212.5 274.03,232.11 274.41,221.95 274.8,216.86 275.18,228.71 275.56,216.24 275.94,219.28 276.33,213.4 276.71,227.24 277.09,235.68 277.47,231.27 277.85,226.56 278.24,215.37 278.62,224.01 279,226.92 279.38,225.47 279.76,212.64 280.15,231.48 280.53,209.83 280.91,239.81 281.29,233.37 281.68,217.99 282.06,221.51 282.44,235.9 282.82,227.3 283.2,232.96 283.59,215.3 283.97,217.67 284.35,230.15 284.73,217.36 285.12,224.84 285.5,221.15 285.88,219.4 286.26,226.23 286.64,216.22 287.03,216.96 287.41,218.86 287.79,213.42 288.17,230.23 288.55,245.31 288.94,236.61 289.32,230.94 289.7,234.24 290.08,229.18 290.47,227.12 290.85,236.81 291.23,235.77 291.61,243.58 291.99,219.77 292.38,231.24 292.76,237.44 293.14,235.26 293.52,225.53 293.91,202.62 294.29,209.89 294.67,235.94 295.05,219.26 295.43,215.57 295.82,212.4 296.2,216.36 296.58,227.99 296.96,217.85 297.34,229.37 297.73,248.56 298.11,233.07 298.49,233.57 298.87,216.48 299.26,215.62 299.64,238.04 300.02,224.31 300.4,224.11 300.78,239.02 301.17,243.94 301.55,221.09 301.93,216.86 302.31,223.14 302.7,244.6 303.08,214.99 303.46,220.55 303.84,224.02 304.22,218.41 304.61,227.79 304.99,210.65 305.37,217.7 305.75,225.06 306.13,217.29 306.52,221.83 306.9,238.8 307.28,224.84 307.66,228.7 308.05,242.67 308.43,230.86 308.81,218.9 309.19,229.49 309.57,206.9 309.96,202.83 310.34,223.35 310.72,213.15 311.1,196.83 311.49,221.09 311.87,226.72 312.25,221.4 312.63,231.69 313.01,231.73 313.4,215.53 313.78,222.95 314.16,216.67 314.54,215 314.92,229.39 315.31,224.18 315.69,225.78 316.07,230.71 316.45,232.95 316.84,220.81 317.22,225.58 317.6,219.88 317.98,211.61 318.36,210.02 318.75,231.16 319.13,226.62 319.51,218.44 319.89,212.81 320.28,202.83 320.66,222.43 321.04,216.49 321.42,209.28 321.8,199.1 322.19,198.07 322.57,224.42 322.95,216.77 323.33,224.11 323.71,207.29 324.1,212.48 324.48,221.89 324.86,225.22 325.24,215.89 325.63,208.71 326.01,227.37 326.39,222.16 326.77,216.73 327.15,216.76 327.54,212.17 327.92,225.3 328.3,219.74 328.68,234.8 329.07,210.77 329.45,199.26 329.83,232.52 330.21,217.32 330.59,201.48 330.98,213.71 331.36,233.96 331.74,202.8 332.12,232.54 332.5,204.43 332.89,227.23 333.27,230.12 333.65,223.48 334.03,224.81 334.42,218.44 334.8,219.3 335.18,225.59 335.56,208.69 335.94,213.76 336.33,216.79 336.71,216.5 337.09,217.24 337.47,215.51 337.86,206.32 338.24,207.55 338.62,211.89 339,201.54 339.38,215.73 339.77,209.04 340.15,205.56 340.53,228.03 340.91,220.25 341.29,200.88 341.68,230.37 342.06,208.85 342.44,233.47 342.82,218.31 343.21,234.31 343.59,229.37 343.97,226.28 344.35,227.34 344.73,209.56 345.12,210.21 345.5,208.51 345.88,214.51 346.26,197.88 346.65,203.5 347.03,210.44 347.41,224.91 347.79,206.39 348.17,207.2 348.56,213.98 348.94,208.41 349.32,209.08 349.7,221.95 350.08,214.12 350.47,217.83 350.85,219.41 351.23,227.41 351.61,229.38 352,223.46 352.38,209.19 352.76,198.67 353.14,226.04 353.52,231.28 353.91,221.17 354.29,223.85 354.67,216.8 355.05,205.77 355.44,218 355.82,200.4 356.2,197.91 356.58,190.32 356.96,187.93 357.35,198.19 357.73,186.5 358.11,218.48 358.49,212.61 358.87,216.19 359.26,215.61 359.64,211.28 360.02,227.22 360.4,206.24 360.79,211.17 361.17,220.9 361.55,219.5 361.93,234.84 362.31,251.06 362.7,225.38 363.08,221.09 363.46,222.1 363.84,236.37 364.23,229.44 364.61,205.78 364.99,216.68 365.37,217.88 365.75,228.25 366.14,217.8 366.52,212.99 366.9,219.88 367.28,233.67 367.66,227.65 368.05,241.38 368.43,236.36 368.81,227.66 369.19,240.27 369.58,237.26 369.96,219.47" stroke="#333333"/>
</g>
<line x1="300.02" y1="180.4" x2="300.02" y2="328.2" stroke="#9a2aaa" stroke-width="1.2" stroke-dasharray="2,1.4"/>
<line x1="326.39" y1="180.4" x2="326.39" y2="328.2" stroke="#9a2aaa" stroke-width="1.2" stroke-dasharray="2,1.4"/>
<rect x="213.5" y="180.4" width="163.8" height="147.8" fill="none" stroke="#555" stroke-width="1.0"/>
<g stroke="#333" stroke-width="0.8"><line x1="229.7" y1="328.2" x2="229.7" y2="330.4"/><line x1="247.28" y1="328.2" x2="247.28" y2="330.4"/><line x1="264.86" y1="328.2" x2="264.86" y2="330.4"/><line x1="282.44" y1="328.2" x2="282.44" y2="330.4"/><line x1="300.02" y1="328.2" x2="300.02" y2="330.4"/><line x1="317.6" y1="328.2" x2="317.6" y2="330.4"/><line x1="335.18" y1="328.2" x2="335.18" y2="330.4"/><line x1="352.76" y1="328.2" x2="352.76" y2="330.4"/><line x1="370.34" y1="328.2" x2="370.34" y2="330.4"/><line x1="211.3" y1="313.61" x2="213.5" y2="313.61"/><line x1="211.3" y1="296.83" x2="213.5" y2="296.83"/><line x1="211.3" y1="280.06" x2="213.5" y2="280.06"/><line x1="211.3" y1="263.29" x2="213.5" y2="263.29"/><line x1="211.3" y1="246.52" x2="213.5" y2="246.52"/><line x1="211.3" y1="229.75" x2="213.5" y2="229.75"/><line x1="211.3" y1="212.97" x2="213.5" y2="212.97"/><line x1="211.3" y1="196.2" x2="213.5" y2="196.2"/></g>
<text x="229.7" y="336.8" font-size="6.85" text-anchor="middle">2004</text>
<text x="247.28" y="336.8" font-size="6.85" text-anchor="middle">2006</text>
<text x="264.86" y="336.8" font-size="6.85" text-anchor="middle">2008</text>
<text x="282.44" y="336.8" font-size="6.85" text-anchor="middle">2010</text>
<text x="300.02" y="336.8" font-size="6.85" text-anchor="middle">2012</text>
<text x="317.6" y="336.8" font-size="6.85" text-anchor="middle">2014</text>
<text x="335.18" y="336.8" font-size="6.85" text-anchor="middle">2016</text>
<text x="352.76" y="336.8" font-size="6.85" text-anchor="middle">2018</text>
<text x="370.34" y="336.8" font-size="6.85" text-anchor="middle">2020</text>
<text x="209.9" y="316.06" font-size="6.85" text-anchor="end">0.050</text>
<text x="209.9" y="299.28" font-size="6.85" text-anchor="end">0.075</text>
<text x="209.9" y="282.51" font-size="6.85" text-anchor="end">0.100</text>
<text x="209.9" y="265.74" font-size="6.85" text-anchor="end">0.125</text>
<text x="209.9" y="248.97" font-size="6.85" text-anchor="end">0.150</text>
<text x="209.9" y="232.19" font-size="6.85" text-anchor="end">0.175</text>
<text x="209.9" y="215.42" font-size="6.85" text-anchor="end">0.200</text>
<text x="209.9" y="198.65" font-size="6.85" text-anchor="end">0.225</text>
<text x="295.4" y="345.4" font-size="7" text-anchor="middle">Year</text>
<text transform="translate(189,254.3) rotate(-90)" x="0" y="0" font-size="7.8" text-anchor="middle">Surface Reflectance</text>
<rect x="219.8" y="185.6" width="20.3" height="13.7" rx="1.5" fill="#fff" fill-opacity="0.85" stroke="#9a9a9a" stroke-width="0.8"/>
<text x="230.3" y="195.7" font-size="10.6" font-weight="bold" text-anchor="middle" letter-spacing="0.9">(e)</text>
<defs><clipPath id="ccf"><rect x="410.4" y="180.4" width="163.6" height="147.8"/></clipPath></defs>
<g stroke="#c4c4c4" stroke-width="0.7" stroke-dasharray="1,1.2"><line x1="425.4" y1="180.4" x2="425.4" y2="328.2"/><line x1="443.28" y1="180.4" x2="443.28" y2="328.2"/><line x1="461.16" y1="180.4" x2="461.16" y2="328.2"/><line x1="479.04" y1="180.4" x2="479.04" y2="328.2"/><line x1="496.92" y1="180.4" x2="496.92" y2="328.2"/><line x1="514.8" y1="180.4" x2="514.8" y2="328.2"/><line x1="532.68" y1="180.4" x2="532.68" y2="328.2"/><line x1="550.56" y1="180.4" x2="550.56" y2="328.2"/><line x1="568.44" y1="180.4" x2="568.44" y2="328.2"/><line x1="410.4" y1="314.98" x2="574.0" y2="314.98"/><line x1="410.4" y1="294.3" x2="574.0" y2="294.3"/><line x1="410.4" y1="273.62" x2="574.0" y2="273.62"/><line x1="410.4" y1="252.94" x2="574.0" y2="252.94"/><line x1="410.4" y1="232.26" x2="574.0" y2="232.26"/><line x1="410.4" y1="211.58" x2="574.0" y2="211.58"/><line x1="410.4" y1="190.9" x2="574.0" y2="190.9"/></g>
<g clip-path="url(#ccf)" fill="none" stroke-width="1.1" stroke-linejoin="round">
<polyline points="417.58,253.61 418.32,251.05 419.07,244.62 419.81,241.37 420.56,242.24 421.3,242.37 422.05,247.39 422.79,252.35 423.54,259.76 424.28,261.79 425.03,263.02 425.77,260.15 426.52,257.87 427.26,252.96 428.01,250.45 428.75,243.35 429.5,246.67 430.24,246.28 430.99,254.32 431.73,263.53 432.48,271.7 433.22,277.63 433.97,278.38 434.71,276.99 435.46,270.76 436.2,268.17 436.95,260.43 437.69,257.23 438.44,254.22 439.18,258.7 439.93,260.44 440.67,264.58 441.42,270.92 442.16,271.59 442.91,273.42 443.65,270.91 444.4,266.98 445.14,263.75 445.89,258.47 446.63,254.28 447.38,252.18 448.12,253.56 448.87,258.75 449.61,263.36 450.36,268.14 451.1,271.14 451.85,271.78 452.59,269.94 453.34,263.5 454.08,260.65 454.83,255.08 455.57,250.55 456.32,250.84 457.06,251.72 457.81,254.91 458.55,258.83 459.3,265.57 460.04,266.02 460.79,268.8 461.53,266.61 462.28,261.93 463.02,256.89 463.77,251.38 464.51,248.72 465.26,247.81 466,249.53 466.75,255.86 467.49,260.12 468.24,268.54 468.98,273.51 469.73,271.48 470.47,272.26 471.22,269.76 471.96,261.91 472.71,259.59 473.45,254.92 474.2,255.88 474.94,256.52 475.69,260.99 476.43,265.14 477.18,268 477.92,269.75 478.67,269.68 479.41,266.84 480.16,267.63 480.9,261.86 481.65,259.96 482.39,256.99 483.14,257.58 483.88,258.91 484.63,261.36 485.37,265.98 486.12,268.82 486.86,272.41 487.61,271.28 488.35,270.68 489.1,266.49 489.84,259.98 490.59,255.28 491.33,252.09 492.08,250.98 492.82,252.83 493.57,255.97 494.31,262.03 495.06,268.06 495.8,271.55 496.55,274.16 497.29,270.92 498.04,267.74 498.78,258.08 499.53,252.76 500.27,248.01 501.02,246.13 501.76,248.75 502.51,253.77 503.25,258.56 504,265.78 504.74,271.15 505.49,271.08 506.23,271.56 506.98,263.91 507.72,260.3 508.47,254.73 509.21,248.69 509.96,247.63 510.7,251.64 511.45,255.68 512.19,261.22 512.94,266.47 513.68,272.46 514.43,273.46 515.17,270.27 515.92,266.28 516.66,259.24 517.41,253.02 518.15,250.35 518.9,248.68 519.64,252.75 520.39,255.66 521.13,261.08 521.88,270.48 522.62,272.89 523.37,274.64 524.11,273.74 524.86,268.92 525.6,262.54 526.35,257.41 527.09,252.52 527.84,250.94 528.58,252.32 529.33,257.11 530.07,265.24 530.82,269.98 531.56,276.12 532.31,276.88 533.05,274 533.8,268.84 534.54,261.62 535.29,254.08 536.03,249.92 536.78,248.47 537.52,250.4 538.27,254.96 539.01,263.65 539.76,268.96 540.5,275.9 541.25,280.81 541.99,275.88 542.74,268.13 543.48,262.52 544.23,255.85 544.97,251.29 545.72,247.46 546.46,250.19 547.21,256.3 547.95,264.14 548.7,270.47 549.44,276.31 550.19,280.04 550.93,275.49 551.68,270.15 552.42,262.58 553.17,254.04 553.91,249.43 554.66,250.83 555.4,249.08 556.15,256.58 556.89,266.94 557.64,276.11 558.38,281.75 559.13,285.27 559.87,281.31 560.62,276.29 561.36,269.09 562.11,262.55 562.85,257.29 563.6,253.89 564.34,256.45 565.09,263.94 565.83,272.97 566.58,281.57 567.32,284.59" stroke="#cdcdcd"/>
<polyline points="417.58,256.51 418.32,259.11 419.07,251.55 419.81,248.95 420.56,248.56 421.3,251.11 422.05,258.07 422.79,262.47 423.54,269.16 424.28,269.29 425.03,274.39 425.77,273.69 426.52,269.18 427.26,263.48 428.01,258.1 428.75,253.88 429.5,252.96 430.24,258.25 430.99,265.27 431.73,276.62 432.48,286.18 433.22,291.84 433.97,295.96 434.71,295.47 435.46,289.71 436.2,281.49 436.95,272.99 437.69,270.93 438.44,270.44 439.18,270.82 439.93,275.81 440.67,278.93 441.42,281.31 442.16,284.28 442.91,285.92 443.65,284 444.4,283.19 445.14,273.11 445.89,269.38 446.63,266.57 447.38,264.23 448.12,265.56 448.87,269.95 449.61,274.55 450.36,277.21 451.1,280.11 451.85,279.8 452.59,279.16 453.34,275.26 454.08,268.14 454.83,263.68 455.57,260.84 456.32,258.95 457.06,260.76 457.81,264.88 458.55,269.51 459.3,272.36 460.04,278.05 460.79,275.99 461.53,274.91 462.28,272.77 463.02,265.02 463.77,260.41 464.51,255.16 465.26,257.96 466,260.59 466.75,265.8 467.49,273.81 468.24,285.4 468.98,289.72 469.73,291.44 470.47,290.86 471.22,283.29 471.96,278.87 472.71,270.37 473.45,267.58 474.2,264.6 474.94,267.75 475.69,271.14 476.43,276.26 477.18,276.34 477.92,279.96 478.67,281.1 479.41,279.83 480.16,277.69 480.9,274.64 481.65,270.96 482.39,268.6 483.14,266.18 483.88,270.72 484.63,272.77 485.37,276.09 486.12,279.01 486.86,281.22 487.61,284.2 488.35,283.17 489.1,276.27 489.84,267.94 490.59,261.73 491.33,258.19 492.08,258.45 492.82,260.59 493.57,266.2 494.31,271.31 495.06,278.96 495.8,282.42 496.55,284.56 497.29,281.88 498.04,275.44 498.78,263.7 499.53,255.96 500.27,250.55 501.02,253.76 501.76,255.19 502.51,261.26 503.25,267.2 504,276.97 504.74,278.48 505.49,280.75 506.23,281.62 506.98,275.91 507.72,268.31 508.47,260.43 509.21,255.51 509.96,253.69 510.7,258.43 511.45,261.84 512.19,267.88 512.94,271.44 513.68,276.35 514.43,277.35 515.17,278.07 515.92,271.06 516.66,263.3 517.41,252.96 518.15,248.96 518.9,249.52 519.64,252.24 520.39,255.95 521.13,262.93 521.88,268.71 522.62,271.35 523.37,271.05 524.11,272.29 524.86,267.34 525.6,260.7 526.35,254 527.09,247.86 527.84,247.14 528.58,250.16 529.33,253.74 530.07,258.78 530.82,263.39 531.56,268.54 532.31,268.9 533.05,266.75 533.8,262.4 534.54,254.82 535.29,248.3 536.03,243.58 536.78,242.03 537.52,246.02 538.27,250.65 539.01,255.67 539.76,261.64 540.5,264.84 541.25,270.58 541.99,266.11 542.74,262.64 543.48,255.31 544.23,248.26 544.97,244.13 545.72,243.88 546.46,247.27 547.21,250.27 547.95,257.76 548.7,262.94 549.44,265.92 550.19,268.99 550.93,264.63 551.68,260.54 552.42,252.07 553.17,247.48 553.91,243.63 554.66,242.86 555.4,246.04 556.15,254.26 556.89,261.68 557.64,270.2 558.38,274.52 559.13,279.44 559.87,276.12 560.62,272.6 561.36,265.66 562.11,258.52 562.85,254.8 563.6,253.27 564.34,256.48 565.09,264.7 565.83,272.78 566.58,279.25 567.32,285.09" stroke="#9e9e9e"/>
<polyline points="417.58,226.87 418.32,221.64 419.07,210.35 419.81,206.47 420.56,203.87 421.3,209.94 422.05,218.99 422.79,225.51 423.54,231.76 424.28,234.89 425.03,231.32 425.77,226.7 426.52,218.39 427.26,210.4 428.01,202.77 428.75,200.83 429.5,203.38 430.24,214.19 430.99,226.88 431.73,241.61 432.48,250.06 433.22,254.8 433.97,252.3 434.71,245.17 435.46,236.77 436.2,224.89 436.95,216.06 437.69,216.9 438.44,218.61 439.18,223.24 439.93,227.6 440.67,235.24 441.42,239.43 442.16,241.85 442.91,240.79 443.65,235.95 444.4,229.76 445.14,221.91 445.89,218.9 446.63,216.16 447.38,216.94 448.12,219.72 448.87,228.52 449.61,235.1 450.36,239.25 451.1,239.52 451.85,238.85 452.59,231.48 453.34,226.74 454.08,215.46 454.83,209.43 455.57,209.54 456.32,209.65 457.06,213.75 457.81,222.2 458.55,228.65 459.3,232.77 460.04,237.14 460.79,235.63 461.53,229.91 462.28,219.73 463.02,211.75 463.77,205.1 464.51,202.39 465.26,203.69 466,211.69 466.75,220.88 467.49,230.68 468.24,233.55 468.98,237.35 469.73,234.46 470.47,231.81 471.22,226.68 471.96,219.43 472.71,215.51 473.45,214.95 474.2,215.85 474.94,216.96 475.69,223.8 476.43,229.2 477.18,234.02 477.92,236.07 478.67,233.29 479.41,230.9 480.16,226.78 480.9,221.26 481.65,218.41 482.39,215.83 483.14,216.8 483.88,224.64 484.63,230.42 485.37,240.85 486.12,246.19 486.86,249.66 487.61,246.51 488.35,238.7 489.1,228.67 489.84,218.24 490.59,210.2 491.33,207.17 492.08,209.78 492.82,213.94 493.57,220.96 494.31,228.28 495.06,234.42 495.8,234.88 496.55,235.01 497.29,229.59 498.04,218.47 498.78,212.63 499.53,203.91 500.27,203.27 501.02,203.81 501.76,211.89 502.51,216.87 503.25,226.04 504,232.92 504.74,232.58 505.49,231.87 506.23,227.65 506.98,221.53 507.72,213.74 508.47,208.58 509.21,205.56 509.96,207.14 510.7,213.62 511.45,220.45 512.19,227.49 512.94,233.62 513.68,234.93 514.43,232.21 515.17,224.81 515.92,214.94 516.66,207.76 517.41,199.33 518.15,197.57 518.9,196.55 519.64,203.51 520.39,209.6 521.13,217.87 521.88,222.81 522.62,223.77 523.37,222.54 524.11,216.29 524.86,210.58 525.6,200.46 526.35,196.23 527.09,191.19 527.84,195.29 528.58,199.9 529.33,210.94 530.07,217.65 530.82,225.45 531.56,227.59 532.31,224.71 533.05,218.03 533.8,207.59 534.54,197.08 535.29,189.69 536.03,187.48 536.78,191.15 537.52,197.61 538.27,206.82 539.01,218.81 539.76,223.33 540.5,227.33 541.25,225.04 541.99,216.91 542.74,207.57 543.48,198.24 544.23,192.16 544.97,187.9 545.72,190.28 546.46,198.81 547.21,206.96 547.95,217.83 548.7,228.12 549.44,229.02 550.19,228.04 550.93,218.3 551.68,208.49 552.42,200.15 553.17,192.2 553.91,188.12 554.66,191.53 555.4,198.89 556.15,212.53 556.89,226.65 557.64,235.53 558.38,242.1 559.13,238.01 559.87,232.42 560.62,226.48 561.36,219.89 562.11,213.22 562.85,209.67 563.6,213.47 564.34,220.89 565.09,226.94 565.83,239.74 566.58,245.14 567.32,250.81" stroke="#707070"/>
<polyline points="417.58,225.69 418.32,222.63 419.07,218.05 419.81,216.25 420.56,214.4 421.3,217.87 422.05,223.61 422.79,227.73 423.54,232.47 424.28,235.19 425.03,235.5 425.77,231.97 426.52,228.05 427.26,221.47 428.01,216.83 428.75,213.18 429.5,214.66 430.24,219.83 430.99,227.94 431.73,235.89 432.48,242.89 433.22,247.43 433.97,246.29 434.71,245.33 435.46,246.98 436.2,243.62 436.95,239.77 437.69,238.96 438.44,238.37 439.18,238.95 439.93,237.91 440.67,242.28 441.42,242.4 442.16,240.41 442.91,241.79 443.65,240.59 444.4,239.73 445.14,238.54 445.89,234.7 446.63,233.76 447.38,235.32 448.12,235.85 448.87,236.95 449.61,239.78 450.36,240.56 451.1,241.32 451.85,241.31 452.59,239.96 453.34,235.48 454.08,231.36 454.83,228.78 455.57,228.34 456.32,227.05 457.06,230.18 457.81,231.68 458.55,236.96 459.3,237.71 460.04,240.31 460.79,241.54 461.53,238.14 462.28,233.48 463.02,228.39 463.77,225.63 464.51,223.7 465.26,222.69 466,225.5 466.75,228.12 467.49,231.31 468.24,236.99 468.98,236.89 469.73,236.03 470.47,236.49 471.22,235.07 471.96,231.23 472.71,229.89 473.45,228.29 474.2,229.77 474.94,232.11 475.69,232.54 476.43,234.95 477.18,235.45 477.92,237.08 478.67,238.99 479.41,237.5 480.16,233.52 480.9,231.64 481.65,231.27 482.39,229.73 483.14,229.8 483.88,232.49 484.63,236.33 485.37,241.73 486.12,246.17 486.86,248.72 487.61,247.36 488.35,247.79 489.1,240.36 489.84,234.2 490.59,230.73 491.33,226.38 492.08,227.55 492.82,227.37 493.57,230.58 494.31,232.21 495.06,233.73 495.8,235.82 496.55,237.06 497.29,235.63 498.04,228.59 498.78,226.34 499.53,223.47 500.27,220.84 501.02,221.43 501.76,221.96 502.51,225.34 503.25,228.2 504,231.37 504.74,231.57 505.49,233.2 506.23,230.33 506.98,227.49 507.72,228.41 508.47,227.53 509.21,223.41 509.96,221.61 510.7,226.45 511.45,228.55 512.19,228.71 512.94,231.95 513.68,232.63 514.43,232.38 515.17,229.38 515.92,226.69 516.66,221.81 517.41,218.8 518.15,217.73 518.9,217.33 519.64,219.16 520.39,220.01 521.13,223.24 521.88,224.97 522.62,223.36 523.37,224.92 524.11,223.55 524.86,220.58 525.6,218.81 526.35,216.35 527.09,214.52 527.84,215.14 528.58,219.15 529.33,221.05 530.07,226.95 530.82,231.22 531.56,233.28 532.31,232.84 533.05,228.75 533.8,228.13 534.54,222.75 535.29,221.79 536.03,217.89 536.78,217.24 537.52,220.18 538.27,223.38 539.01,225.6 539.76,227.78 540.5,229.38 541.25,228.09 541.99,228.46 542.74,226.75 543.48,223.38 544.23,220.91 544.97,219.5 545.72,219.96 546.46,221.55 547.21,226.29 547.95,226.87 548.7,231.04 549.44,233.24 550.19,231.25 550.93,227.56 551.68,223.16 552.42,217.52 553.17,213.67 553.91,207.21 554.66,209.84 555.4,215.25 556.15,220.11 556.89,225.05 557.64,231.75 558.38,232.9 559.13,234 559.87,232.51 560.62,233.23 561.36,237.52 562.11,235.09 562.85,237.02 563.6,234.6 564.34,237.33 565.09,239.7 565.83,244.45 566.58,244.11 567.32,245.45" stroke="#333333"/>
<polyline points="417.58,248.59 418.32,245.63 419.07,237.57 419.81,232.13 420.56,231.57 421.3,234.87 422.05,239.14 422.79,243.52 423.54,245.71 424.28,247.35 425.03,249.54 425.77,249.58 426.52,245.73 427.26,238.64 428.01,236.23 428.75,236.24 429.5,235.42 430.24,241.17 430.99,248.05 431.73,256.48 432.48,264.51 433.22,268.51 433.97,270.77 434.71,269.57 435.46,264.45 436.2,258.92 436.95,257.06 437.69,253.34 438.44,254.24 439.18,254.72 439.93,257.99 440.67,259.07 441.42,261.35 442.16,263.13 442.91,264.35 443.65,262.1 444.4,259.14 445.14,254.82 445.89,249.21 446.63,248.52 447.38,246.43 448.12,248.68 448.87,254.33 449.61,255.27 450.36,259.69 451.1,260.55 451.85,261.15 452.59,261.04 453.34,254.04 454.08,247.61 454.83,240.75 455.57,240.06 456.32,238.5 457.06,243.14 457.81,246.74 458.55,252.33 459.3,254.57 460.04,258.62 460.79,257.64 461.53,257.31 462.28,251.99 463.02,245.63 463.77,241.6 464.51,238.19 465.26,237.23 466,242.19 466.75,246.63 467.49,252.66 468.24,257.31 468.98,261.92 469.73,262.8 470.47,260.97 471.22,257.76 471.96,254.58 472.71,249.14 473.45,249.53 474.2,249.65 474.94,251.28 475.69,251.43 476.43,255.65 477.18,258.87 477.92,260.81 478.67,259.73 479.41,260.25 480.16,258.09 480.9,253.18 481.65,252.48 482.39,250.25 483.14,250.22 483.88,252.41 484.63,254.8 485.37,256.57 486.12,261.42 486.86,264.17 487.61,265.37 488.35,261.86 489.1,257.73 489.84,251.76 490.59,247.89 491.33,245.51 492.08,245.98 492.82,247.46 493.57,249.46 494.31,253.14 495.06,255.48 495.8,255.55 496.55,257.6 497.29,257.8 498.04,249.85 498.78,245.66 499.53,242.12 500.27,237.68 501.02,239.24 501.76,243.59 502.51,249.52 503.25,256.71 504,261.84 504.74,265 505.49,267.74 506.23,265.86 506.98,261.73 507.72,261.67 508.47,257.33 509.21,256.45 509.96,257.94 510.7,261.64 511.45,266.57 512.19,272.99 512.94,280.27 513.68,283.93 514.43,284.55 515.17,283.62 515.92,279.81 516.66,276.24 517.41,272.74 518.15,269.56 518.9,271.53 519.64,275.91 520.39,281.49 521.13,290.31 521.88,296.21 522.62,299.45 523.37,300.97 524.11,297.65 524.86,293.67 525.6,288.27 526.35,278.73 527.09,276.5 527.84,279.24 528.58,279.98 529.33,286.58 530.07,294.51 530.82,298.54 531.56,302.36 532.31,301.31 533.05,300.44 533.8,292.06 534.54,282.34 535.29,274 536.03,270.17 536.78,269.74 537.52,273.49 538.27,281.39 539.01,291.57 539.76,299.6 540.5,303.6 541.25,306.07 541.99,302.65 542.74,295.91 543.48,282.42 544.23,275.03 544.97,272.61 545.72,271.54 546.46,276.37 547.21,288.67 547.95,296.51 548.7,305.21 549.44,310.17 550.19,312.79 550.93,308.38 551.68,297.59 552.42,282.41 553.17,270.64 553.91,267.48 554.66,269.05 555.4,272.26 556.15,287.21 556.89,299.65 557.64,310.72 558.38,318.22 559.13,320.09 559.87,316.93 560.62,309.3 561.36,296.74 562.11,287.35 562.85,280.66 563.6,283.25 564.34,288.86 565.09,295.16 565.83,299.77 566.58,307.67 567.32,312.23" stroke="#168a16"/>
</g>
<line x1="496.92" y1="180.4" x2="496.92" y2="328.2" stroke="#9a2aaa" stroke-width="1.2" stroke-dasharray="2,1.4"/>
<line x1="523.74" y1="180.4" x2="523.74" y2="328.2" stroke="#9a2aaa" stroke-width="1.2" stroke-dasharray="2,1.4"/>
<rect x="410.4" y="180.4" width="163.6" height="147.8" fill="none" stroke="#555" stroke-width="1.0"/>
<g stroke="#333" stroke-width="0.8"><line x1="425.4" y1="328.2" x2="425.4" y2="330.4"/><line x1="443.28" y1="328.2" x2="443.28" y2="330.4"/><line x1="461.16" y1="328.2" x2="461.16" y2="330.4"/><line x1="479.04" y1="328.2" x2="479.04" y2="330.4"/><line x1="496.92" y1="328.2" x2="496.92" y2="330.4"/><line x1="514.8" y1="328.2" x2="514.8" y2="330.4"/><line x1="532.68" y1="328.2" x2="532.68" y2="330.4"/><line x1="550.56" y1="328.2" x2="550.56" y2="330.4"/><line x1="568.44" y1="328.2" x2="568.44" y2="330.4"/><line x1="408.2" y1="314.98" x2="410.4" y2="314.98"/><line x1="408.2" y1="294.3" x2="410.4" y2="294.3"/><line x1="408.2" y1="273.62" x2="410.4" y2="273.62"/><line x1="408.2" y1="252.94" x2="410.4" y2="252.94"/><line x1="408.2" y1="232.26" x2="410.4" y2="232.26"/><line x1="408.2" y1="211.58" x2="410.4" y2="211.58"/><line x1="408.2" y1="190.9" x2="410.4" y2="190.9"/></g>
<text x="425.4" y="336.8" font-size="6.85" text-anchor="middle">2004</text>
<text x="443.28" y="336.8" font-size="6.85" text-anchor="middle">2006</text>
<text x="461.16" y="336.8" font-size="6.85" text-anchor="middle">2008</text>
<text x="479.04" y="336.8" font-size="6.85" text-anchor="middle">2010</text>
<text x="496.92" y="336.8" font-size="6.85" text-anchor="middle">2012</text>
<text x="514.8" y="336.8" font-size="6.85" text-anchor="middle">2014</text>
<text x="532.68" y="336.8" font-size="6.85" text-anchor="middle">2016</text>
<text x="550.56" y="336.8" font-size="6.85" text-anchor="middle">2018</text>
<text x="568.44" y="336.8" font-size="6.85" text-anchor="middle">2020</text>
<text x="406.8" y="317.43" font-size="6.85" text-anchor="end">0.10</text>
<text x="406.8" y="296.75" font-size="6.85" text-anchor="end">0.12</text>
<text x="406.8" y="276.07" font-size="6.85" text-anchor="end">0.14</text>
<text x="406.8" y="255.39" font-size="6.85" text-anchor="end">0.16</text>
<text x="406.8" y="234.71" font-size="6.85" text-anchor="end">0.18</text>
<text x="406.8" y="214.03" font-size="6.85" text-anchor="end">0.20</text>
<text x="406.8" y="193.35" font-size="6.85" text-anchor="end">0.22</text>
<text x="492.2" y="345.4" font-size="7" text-anchor="middle">Year</text>
<text transform="translate(389.6,254.3) rotate(-90)" x="0" y="0" font-size="7.8" text-anchor="middle">Surface Reflectance</text>
<rect x="416.7" y="185.6" width="18.0" height="13.7" rx="1.5" fill="#fff" fill-opacity="0.85" stroke="#9a9a9a" stroke-width="0.8"/>
<text x="426.05" y="195.7" font-size="10.6" font-weight="bold" text-anchor="middle" letter-spacing="0.9">(f)</text>
<rect x="198.5" y="360.1" width="175" height="14" rx="1.5" fill="#fff" stroke="#d0d0d0" stroke-width="0.7"/>
<line x1="200.6" y1="365" x2="213.2" y2="365" stroke="#3f9f3f" stroke-width="1.6"/>
<text x="218.2" y="367.3" font-size="6.7">SF</text>
<line x1="236.5" y1="365" x2="249.1" y2="365" stroke="#505050" stroke-width="1.6"/>
<text x="253.7" y="367.3" font-size="6.7">C1</text>
<line x1="273.2" y1="365" x2="285.8" y2="365" stroke="#858585" stroke-width="1.6"/>
<text x="290.4" y="367.3" font-size="6.7">C2</text>
<line x1="310.1" y1="365" x2="322.70000000000005" y2="365" stroke="#a8a8a8" stroke-width="1.6"/>
<text x="327.3" y="367.3" font-size="6.7">C3</text>
<line x1="347.0" y1="365" x2="359.6" y2="365" stroke="#d0d0d0" stroke-width="1.6"/>
<text x="364.2" y="367.3" font-size="6.7">C4</text>
</g></svg>
</body></html>
